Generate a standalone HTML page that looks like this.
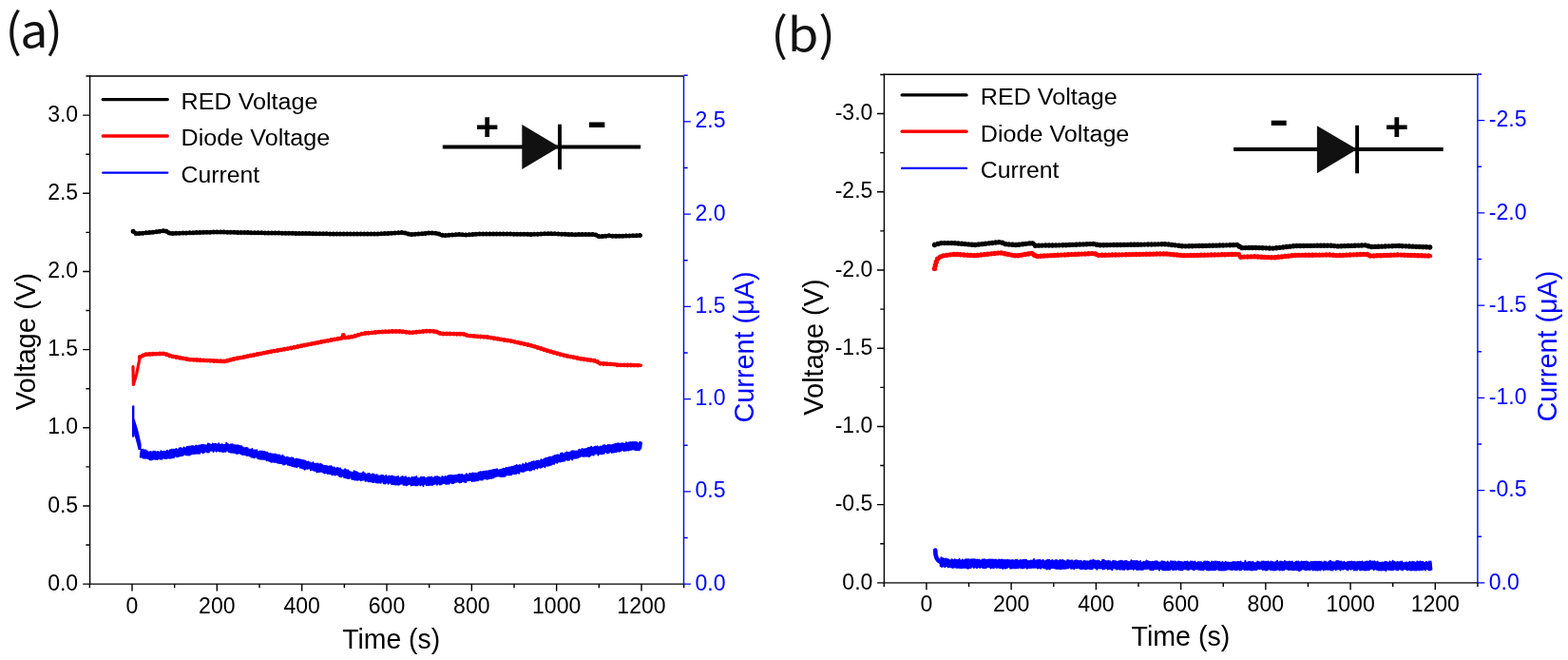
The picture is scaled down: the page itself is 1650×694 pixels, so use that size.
<!DOCTYPE html>
<html><head><meta charset="utf-8"><style>
html,body{margin:0;padding:0;background:#fff;overflow:hidden;}
svg{display:block;}
</style></head><body>
<svg width="1650" height="694" viewBox="0 0 1650 694" font-family='"Liberation Sans", Arial, sans-serif'>
<rect width="1650" height="694" fill="#fff"/>
<path d="M94.6,80.0 L94.6,614.1 L719.5,614.1" fill="none" stroke="#000" stroke-width="1.4" stroke-linecap="square"/>
<path d="M94.6,80.0 L719.5,80.0" fill="none" stroke="#000" stroke-width="1.4"/>
<path d="M719.5,80.0 L719.5,614.1" fill="none" stroke="#0000ff" stroke-width="1.4"/>
<path d="M94.33,614.1 l0,4.2 M139.00,614.1 l0,7.4 M183.67,614.1 l0,4.2 M228.33,614.1 l0,7.4 M273.00,614.1 l0,4.2 M317.67,614.1 l0,7.4 M362.34,614.1 l0,4.2 M407.00,614.1 l0,7.4 M451.67,614.1 l0,4.2 M496.34,614.1 l0,7.4 M541.00,614.1 l0,4.2 M585.67,614.1 l0,7.4 M630.34,614.1 l0,4.2 M675.00,614.1 l0,7.4 M719.67,614.1 l0,4.2" stroke="#000" stroke-width="1.4"/>
<path d="M94.6,614.10 l-7.4,0 M94.6,573.02 l-4.2,0 M94.6,531.94 l-7.4,0 M94.6,490.85 l-4.2,0 M94.6,449.77 l-7.4,0 M94.6,408.69 l-4.2,0 M94.6,367.61 l-7.4,0 M94.6,326.52 l-4.2,0 M94.6,285.44 l-7.4,0 M94.6,244.36 l-4.2,0 M94.6,203.27 l-7.4,0 M94.6,162.19 l-4.2,0 M94.6,121.11 l-7.4,0 M94.6,80.03 l-4.2,0" stroke="#000" stroke-width="1.4"/>
<path d="M719.5,614.10 l7.4,0 M719.5,565.48 l4.2,0 M719.5,516.85 l7.4,0 M719.5,468.23 l4.2,0 M719.5,419.60 l7.4,0 M719.5,370.98 l4.2,0 M719.5,322.35 l7.4,0 M719.5,273.73 l4.2,0 M719.5,225.10 l7.4,0 M719.5,176.48 l4.2,0 M719.5,127.85 l7.4,0 M719.5,79.23 l4.2,0" stroke="#0000ff" stroke-width="1.4"/>
<text transform="translate(139.00,644.50) scale(0.9300,1)" font-size="24.8" text-anchor="middle">0</text>
<text transform="translate(228.33,644.50) scale(0.9300,1)" font-size="24.8" text-anchor="middle">200</text>
<text transform="translate(317.67,644.50) scale(0.9300,1)" font-size="24.8" text-anchor="middle">400</text>
<text transform="translate(407.00,644.50) scale(0.9300,1)" font-size="24.8" text-anchor="middle">600</text>
<text transform="translate(496.34,644.50) scale(0.9300,1)" font-size="24.8" text-anchor="middle">800</text>
<text transform="translate(585.67,644.50) scale(0.9300,1)" font-size="24.8" text-anchor="middle">1000</text>
<text transform="translate(675.00,644.50) scale(0.9300,1)" font-size="24.8" text-anchor="middle">1200</text>
<text transform="translate(82.20,620.70) scale(0.9300,1)" font-size="24.8" text-anchor="end">0.0</text>
<text transform="translate(82.20,538.54) scale(0.9300,1)" font-size="24.8" text-anchor="end">0.5</text>
<text transform="translate(82.20,456.37) scale(0.9300,1)" font-size="24.8" text-anchor="end">1.0</text>
<text transform="translate(82.20,374.21) scale(0.9300,1)" font-size="24.8" text-anchor="end">1.5</text>
<text transform="translate(82.20,292.04) scale(0.9300,1)" font-size="24.8" text-anchor="end">2.0</text>
<text transform="translate(82.20,209.87) scale(0.9300,1)" font-size="24.8" text-anchor="end">2.5</text>
<text transform="translate(82.20,127.71) scale(0.9300,1)" font-size="24.8" text-anchor="end">3.0</text>
<text transform="translate(731.50,620.70) scale(0.9300,1)" font-size="24.8" fill="#0000ff">0.0</text>
<text transform="translate(731.50,523.45) scale(0.9300,1)" font-size="24.8" fill="#0000ff">0.5</text>
<text transform="translate(731.50,426.20) scale(0.9300,1)" font-size="24.8" fill="#0000ff">1.0</text>
<text transform="translate(731.50,328.95) scale(0.9300,1)" font-size="24.8" fill="#0000ff">1.5</text>
<text transform="translate(731.50,231.70) scale(0.9300,1)" font-size="24.8" fill="#0000ff">2.0</text>
<text transform="translate(731.50,134.45) scale(0.9300,1)" font-size="24.8" fill="#0000ff">2.5</text>
<path d="M930.4,78.2 L930.4,612.9 L1554.9,612.9" fill="none" stroke="#000" stroke-width="1.4" stroke-linecap="square"/>
<path d="M930.4,78.2 L1554.9,78.2" fill="none" stroke="#000" stroke-width="1.4"/>
<path d="M1554.9,78.2 L1554.9,612.9" fill="none" stroke="#0000ff" stroke-width="1.4"/>
<path d="M930.28,612.9 l0,4.2 M974.90,612.9 l0,7.4 M1019.52,612.9 l0,4.2 M1064.13,612.9 l0,7.4 M1108.75,612.9 l0,4.2 M1153.37,612.9 l0,7.4 M1197.98,612.9 l0,4.2 M1242.60,612.9 l0,7.4 M1287.22,612.9 l0,4.2 M1331.84,612.9 l0,7.4 M1376.45,612.9 l0,4.2 M1421.07,612.9 l0,7.4 M1465.69,612.9 l0,4.2 M1510.30,612.9 l0,7.4 M1554.92,612.9 l0,4.2" stroke="#000" stroke-width="1.4"/>
<path d="M930.4,612.90 l-7.4,0 M930.4,571.79 l-4.2,0 M930.4,530.67 l-7.4,0 M930.4,489.56 l-4.2,0 M930.4,448.45 l-7.4,0 M930.4,407.34 l-4.2,0 M930.4,366.23 l-7.4,0 M930.4,325.11 l-4.2,0 M930.4,284.00 l-7.4,0 M930.4,242.89 l-4.2,0 M930.4,201.77 l-7.4,0 M930.4,160.66 l-4.2,0 M930.4,119.55 l-7.4,0 M930.4,78.44 l-4.2,0" stroke="#000" stroke-width="1.4"/>
<path d="M1554.9,612.90 l7.4,0 M1554.9,564.27 l4.2,0 M1554.9,515.65 l7.4,0 M1554.9,467.02 l4.2,0 M1554.9,418.40 l7.4,0 M1554.9,369.77 l4.2,0 M1554.9,321.15 l7.4,0 M1554.9,272.52 l4.2,0 M1554.9,223.90 l7.4,0 M1554.9,175.27 l4.2,0 M1554.9,126.65 l7.4,0 M1554.9,78.02 l4.2,0" stroke="#0000ff" stroke-width="1.4"/>
<text transform="translate(974.90,642.80) scale(0.9300,1)" font-size="24.8" text-anchor="middle">0</text>
<text transform="translate(1064.13,642.80) scale(0.9300,1)" font-size="24.8" text-anchor="middle">200</text>
<text transform="translate(1153.37,642.80) scale(0.9300,1)" font-size="24.8" text-anchor="middle">400</text>
<text transform="translate(1242.60,642.80) scale(0.9300,1)" font-size="24.8" text-anchor="middle">600</text>
<text transform="translate(1331.84,642.80) scale(0.9300,1)" font-size="24.8" text-anchor="middle">800</text>
<text transform="translate(1421.07,642.80) scale(0.9300,1)" font-size="24.8" text-anchor="middle">1000</text>
<text transform="translate(1510.30,642.80) scale(0.9300,1)" font-size="24.8" text-anchor="middle">1200</text>
<text transform="translate(918.40,619.50) scale(0.9300,1)" font-size="24.8" text-anchor="end">0.0</text>
<text transform="translate(918.40,537.27) scale(0.9300,1)" font-size="24.8" text-anchor="end">-0.5</text>
<text transform="translate(918.40,455.05) scale(0.9300,1)" font-size="24.8" text-anchor="end">-1.0</text>
<text transform="translate(918.40,372.83) scale(0.9300,1)" font-size="24.8" text-anchor="end">-1.5</text>
<text transform="translate(918.40,290.60) scale(0.9300,1)" font-size="24.8" text-anchor="end">-2.0</text>
<text transform="translate(918.40,208.37) scale(0.9300,1)" font-size="24.8" text-anchor="end">-2.5</text>
<text transform="translate(918.40,126.15) scale(0.9300,1)" font-size="24.8" text-anchor="end">-3.0</text>
<text transform="translate(1566.80,619.50) scale(0.9300,1)" font-size="24.8" fill="#0000ff">0.0</text>
<text transform="translate(1566.80,522.25) scale(0.9300,1)" font-size="24.8" fill="#0000ff">-0.5</text>
<text transform="translate(1566.80,425.00) scale(0.9300,1)" font-size="24.8" fill="#0000ff">-1.0</text>
<text transform="translate(1566.80,327.75) scale(0.9300,1)" font-size="24.8" fill="#0000ff">-1.5</text>
<text transform="translate(1566.80,230.50) scale(0.9300,1)" font-size="24.8" fill="#0000ff">-2.0</text>
<text transform="translate(1566.80,133.25) scale(0.9300,1)" font-size="24.8" fill="#0000ff">-2.5</text>
<path d="M140.10,243.30 L141.10,244.01 L142.10,244.71 L143.10,245.42 L144.10,245.65 L145.10,245.56 L146.10,245.48 L147.10,245.39 L148.10,245.31 L149.10,245.22 L150.10,245.14 L151.10,245.06 L152.10,244.97 L153.10,244.89 L154.10,244.80 L155.10,244.72 L156.10,244.63 L157.10,244.55 L158.10,244.46 L159.10,244.38 L160.10,244.29 L161.10,244.16 L162.10,244.03 L163.10,243.90 L164.10,243.77 L165.10,243.64 L166.10,243.52 L167.10,243.39 L168.10,243.26 L169.10,243.13 L170.10,243.00 L171.10,242.87 L172.10,242.74 L173.10,242.62 L174.10,242.56 L175.10,243.15 L176.10,243.74 L177.10,244.32 L178.10,244.91 L179.10,245.50 L180.10,245.47 L181.10,245.43 L182.10,245.40 L183.10,245.37 L184.10,245.34 L185.10,245.30 L186.10,245.27 L187.10,245.24 L188.10,245.21 L189.10,245.17 L190.10,245.14 L191.10,245.11 L192.10,245.08 L193.10,245.04 L194.10,245.01 L195.10,244.98 L196.10,244.95 L197.10,244.91 L198.10,244.88 L199.10,244.85 L200.10,244.82 L201.10,244.78 L202.10,244.75 L203.10,244.72 L204.10,244.69 L205.10,244.65 L206.10,244.62 L207.10,244.59 L208.10,244.56 L209.10,244.52 L210.10,244.49 L211.10,244.46 L212.10,244.43 L213.10,244.39 L214.10,244.36 L215.10,244.33 L216.10,244.30 L217.10,244.26 L218.10,244.23 L219.10,244.20 L220.10,244.17 L221.10,244.13 L222.10,244.10 L223.10,244.07 L224.10,244.04 L225.10,244.00 L226.10,243.97 L227.10,243.94 L228.10,243.91 L229.10,243.92 L230.10,243.94 L231.10,243.97 L232.10,243.99 L233.10,244.01 L234.10,244.04 L235.10,244.06 L236.10,244.08 L237.10,244.11 L238.10,244.13 L239.10,244.15 L240.10,244.18 L241.10,244.20 L242.10,244.22 L243.10,244.25 L244.10,244.27 L245.10,244.30 L246.10,244.32 L247.10,244.34 L248.10,244.37 L249.10,244.39 L250.10,244.41 L251.10,244.44 L252.10,244.46 L253.10,244.48 L254.10,244.50 L255.10,244.52 L256.10,244.54 L257.10,244.55 L258.10,244.57 L259.10,244.58 L260.10,244.60 L261.10,244.61 L262.10,244.63 L263.10,244.65 L264.10,244.66 L265.10,244.68 L266.10,244.69 L267.10,244.71 L268.10,244.72 L269.10,244.74 L270.10,244.76 L271.10,244.77 L272.10,244.79 L273.10,244.80 L274.10,244.82 L275.10,244.83 L276.10,244.85 L277.10,244.87 L278.10,244.88 L279.10,244.90 L280.10,244.91 L281.10,244.93 L282.10,244.94 L283.10,244.96 L284.10,244.98 L285.10,244.99 L286.10,245.01 L287.10,245.02 L288.10,245.04 L289.10,245.05 L290.10,245.07 L291.10,245.09 L292.10,245.10 L293.10,245.12 L294.10,245.13 L295.10,245.15 L296.10,245.16 L297.10,245.18 L298.10,245.20 L299.10,245.21 L300.10,245.23 L301.10,245.24 L302.10,245.26 L303.10,245.27 L304.10,245.29 L305.10,245.31 L306.10,245.32 L307.10,245.33 L308.10,245.35 L309.10,245.36 L310.10,245.37 L311.10,245.39 L312.10,245.40 L313.10,245.42 L314.10,245.43 L315.10,245.44 L316.10,245.46 L317.10,245.47 L318.10,245.48 L319.10,245.50 L320.10,245.51 L321.10,245.53 L322.10,245.54 L323.10,245.55 L324.10,245.57 L325.10,245.58 L326.10,245.59 L327.10,245.61 L328.10,245.62 L329.10,245.64 L330.10,245.65 L331.10,245.66 L332.10,245.68 L333.10,245.69 L334.10,245.70 L335.10,245.72 L336.10,245.73 L337.10,245.75 L338.10,245.76 L339.10,245.77 L340.10,245.79 L341.10,245.80 L342.10,245.81 L343.10,245.83 L344.10,245.84 L345.10,245.86 L346.10,245.87 L347.10,245.88 L348.10,245.90 L349.10,245.91 L350.10,245.92 L351.10,245.94 L352.10,245.95 L353.10,245.97 L354.10,245.98 L355.10,245.99 L356.10,246.00 L357.10,246.00 L358.10,246.00 L359.10,246.00 L360.10,246.00 L361.10,246.00 L362.10,246.00 L363.10,246.00 L364.10,246.00 L365.10,246.00 L366.10,246.00 L367.10,246.00 L368.10,246.00 L369.10,246.00 L370.10,246.00 L371.10,246.00 L372.10,246.00 L373.10,246.00 L374.10,246.00 L375.10,246.00 L376.10,246.00 L377.10,246.00 L378.10,246.00 L379.10,246.00 L380.10,246.00 L381.10,246.00 L382.10,246.00 L383.10,246.00 L384.10,246.00 L385.10,246.00 L386.10,246.00 L387.10,246.00 L388.10,246.00 L389.10,246.00 L390.10,246.00 L391.10,246.00 L392.10,246.00 L393.10,246.00 L394.10,246.00 L395.10,246.00 L396.10,246.00 L397.10,246.00 L398.10,245.99 L399.10,245.94 L400.10,245.88 L401.10,245.82 L402.10,245.76 L403.10,245.70 L404.10,245.64 L405.10,245.59 L406.10,245.53 L407.10,245.47 L408.10,245.41 L409.10,245.35 L410.10,245.29 L411.10,245.24 L412.10,245.18 L413.10,245.13 L414.10,245.07 L415.10,245.02 L416.10,244.96 L417.10,244.91 L418.10,244.85 L419.10,244.80 L420.10,244.74 L421.10,244.69 L422.10,244.63 L423.10,244.58 L424.10,244.52 L425.10,244.68 L426.10,244.98 L427.10,245.28 L428.10,245.58 L429.10,245.89 L430.10,246.19 L431.10,246.49 L432.10,246.68 L433.10,246.59 L434.10,246.51 L435.10,246.43 L436.10,246.34 L437.10,246.26 L438.10,246.18 L439.10,246.10 L440.10,246.01 L441.10,245.93 L442.10,245.85 L443.10,245.77 L444.10,245.68 L445.10,245.60 L446.10,245.52 L447.10,245.44 L448.10,245.35 L449.10,245.27 L450.10,245.19 L451.10,245.11 L452.10,245.02 L453.10,244.94 L454.10,244.93 L455.10,245.00 L456.10,245.07 L457.10,245.14 L458.10,245.21 L459.10,245.27 L460.10,245.51 L461.10,245.86 L462.10,246.20 L463.10,246.55 L464.10,246.90 L465.10,247.24 L466.10,247.59 L467.10,247.77 L468.10,247.68 L469.10,247.59 L470.10,247.50 L471.10,247.42 L472.10,247.33 L473.10,247.24 L474.10,247.15 L475.10,247.06 L476.10,246.98 L477.10,246.89 L478.10,246.80 L479.10,246.72 L480.10,246.63 L481.10,246.54 L482.10,246.45 L483.10,246.44 L484.10,246.53 L485.10,246.63 L486.10,246.73 L487.10,246.82 L488.10,246.92 L489.10,247.01 L490.10,247.09 L491.10,247.02 L492.10,246.94 L493.10,246.86 L494.10,246.79 L495.10,246.71 L496.10,246.64 L497.10,246.56 L498.10,246.49 L499.10,246.41 L500.10,246.33 L501.10,246.26 L502.10,246.18 L503.10,246.11 L504.10,246.03 L505.10,246.00 L506.10,246.00 L507.10,246.00 L508.10,246.00 L509.10,246.00 L510.10,246.00 L511.10,246.00 L512.10,246.00 L513.10,246.00 L514.10,246.00 L515.10,246.00 L516.10,246.00 L517.10,246.00 L518.10,246.00 L519.10,246.00 L520.10,246.00 L521.10,246.00 L522.10,246.00 L523.10,246.00 L524.10,246.00 L525.10,246.00 L526.10,246.00 L527.10,246.00 L528.10,246.00 L529.10,246.00 L530.10,246.00 L531.10,246.01 L532.10,246.03 L533.10,246.04 L534.10,246.05 L535.10,246.07 L536.10,246.08 L537.10,246.09 L538.10,246.11 L539.10,246.12 L540.10,246.13 L541.10,246.15 L542.10,246.16 L543.10,246.17 L544.10,246.19 L545.10,246.20 L546.10,246.21 L547.10,246.23 L548.10,246.24 L549.10,246.25 L550.10,246.27 L551.10,246.28 L552.10,246.29 L553.10,246.31 L554.10,246.32 L555.10,246.33 L556.10,246.35 L557.10,246.36 L558.10,246.37 L559.10,246.39 L560.10,246.40 L561.10,246.35 L562.10,246.31 L563.10,246.26 L564.10,246.22 L565.10,246.18 L566.10,246.13 L567.10,246.09 L568.10,246.04 L569.10,246.00 L570.10,245.96 L571.10,245.91 L572.10,245.87 L573.10,245.82 L574.10,245.78 L575.10,245.74 L576.10,245.69 L577.10,245.65 L578.10,245.60 L579.10,245.64 L580.10,245.68 L581.10,245.73 L582.10,245.77 L583.10,245.81 L584.10,245.86 L585.10,245.90 L586.10,245.94 L587.10,245.99 L588.10,246.03 L589.10,246.07 L590.10,246.12 L591.10,246.16 L592.10,246.20 L593.10,246.25 L594.10,246.29 L595.10,246.33 L596.10,246.38 L597.10,246.42 L598.10,246.46 L599.10,246.51 L600.10,246.55 L601.10,246.59 L602.10,246.64 L603.10,246.68 L604.10,246.69 L605.10,246.68 L606.10,246.67 L607.10,246.65 L608.10,246.64 L609.10,246.62 L610.10,246.61 L611.10,246.60 L612.10,246.58 L613.10,246.57 L614.10,246.56 L615.10,246.54 L616.10,246.53 L617.10,246.52 L618.10,246.50 L619.10,246.49 L620.10,246.47 L621.10,246.46 L622.10,246.45 L623.10,246.43 L624.10,246.42 L625.10,246.41 L626.10,246.66 L627.10,247.09 L628.10,247.52 L629.10,247.95 L630.10,248.38 L631.10,248.81 L632.10,248.80 L633.10,248.67 L634.10,248.55 L635.10,248.42 L636.10,248.29 L637.10,248.17 L638.10,248.04 L639.10,247.91 L640.10,247.81 L641.10,247.89 L642.10,247.97 L643.10,248.05 L644.10,248.14 L645.10,248.22 L646.10,248.30 L647.10,248.38 L648.10,248.37 L649.10,248.34 L650.10,248.31 L651.10,248.27 L652.10,248.24 L653.10,248.21 L654.10,248.18 L655.10,248.14 L656.10,248.11 L657.10,248.08 L658.10,248.04 L659.10,248.01 L660.10,247.98 L661.10,247.94 L662.10,247.91 L663.10,247.88 L664.10,247.84 L665.10,247.81 L666.10,247.78 L667.10,247.74 L668.10,247.71 L669.10,247.68 L670.10,247.65 L671.10,247.61 L672.10,247.58 L673.10,247.55 L674.10,247.51" fill="none" stroke="#000" stroke-width="3.6" stroke-linejoin="round" stroke-linecap="round" />
<path d="M140.10,243.30 L141.10,244.01 L142.10,244.71 L143.10,245.42 L144.10,245.65 L145.10,245.56 L146.10,245.48 L147.10,245.39 L148.10,245.31 L149.10,245.22 L150.10,245.14 L151.10,245.06 L152.10,244.97 L153.10,244.89 L154.10,244.80 L155.10,244.72 L156.10,244.63 L157.10,244.55 L158.10,244.46 L159.10,244.38 L160.10,244.29 L161.10,244.16 L162.10,244.03 L163.10,243.90 L164.10,243.77 L165.10,243.64 L166.10,243.52 L167.10,243.39 L168.10,243.26 L169.10,243.13 L170.10,243.00 L171.10,242.87 L172.10,242.74 L173.10,242.62 L174.10,242.56 L175.10,243.15 L176.10,243.74 L177.10,244.32 L178.10,244.91 L179.10,245.50 L180.10,245.47 L181.10,245.43 L182.10,245.40 L183.10,245.37 L184.10,245.34 L185.10,245.30 L186.10,245.27 L187.10,245.24 L188.10,245.21 L189.10,245.17 L190.10,245.14 L191.10,245.11 L192.10,245.08 L193.10,245.04 L194.10,245.01 L195.10,244.98 L196.10,244.95 L197.10,244.91 L198.10,244.88 L199.10,244.85 L200.10,244.82 L201.10,244.78 L202.10,244.75 L203.10,244.72 L204.10,244.69 L205.10,244.65 L206.10,244.62 L207.10,244.59 L208.10,244.56 L209.10,244.52 L210.10,244.49 L211.10,244.46 L212.10,244.43 L213.10,244.39 L214.10,244.36 L215.10,244.33 L216.10,244.30 L217.10,244.26 L218.10,244.23 L219.10,244.20 L220.10,244.17 L221.10,244.13 L222.10,244.10 L223.10,244.07 L224.10,244.04 L225.10,244.00 L226.10,243.97 L227.10,243.94 L228.10,243.91 L229.10,243.92 L230.10,243.94 L231.10,243.97 L232.10,243.99 L233.10,244.01 L234.10,244.04 L235.10,244.06 L236.10,244.08 L237.10,244.11 L238.10,244.13 L239.10,244.15 L240.10,244.18 L241.10,244.20 L242.10,244.22 L243.10,244.25 L244.10,244.27 L245.10,244.30 L246.10,244.32 L247.10,244.34 L248.10,244.37 L249.10,244.39 L250.10,244.41 L251.10,244.44 L252.10,244.46 L253.10,244.48 L254.10,244.50 L255.10,244.52 L256.10,244.54 L257.10,244.55 L258.10,244.57 L259.10,244.58 L260.10,244.60 L261.10,244.61 L262.10,244.63 L263.10,244.65 L264.10,244.66 L265.10,244.68 L266.10,244.69 L267.10,244.71 L268.10,244.72 L269.10,244.74 L270.10,244.76 L271.10,244.77 L272.10,244.79 L273.10,244.80 L274.10,244.82 L275.10,244.83 L276.10,244.85 L277.10,244.87 L278.10,244.88 L279.10,244.90 L280.10,244.91 L281.10,244.93 L282.10,244.94 L283.10,244.96 L284.10,244.98 L285.10,244.99 L286.10,245.01 L287.10,245.02 L288.10,245.04 L289.10,245.05 L290.10,245.07 L291.10,245.09 L292.10,245.10 L293.10,245.12 L294.10,245.13 L295.10,245.15 L296.10,245.16 L297.10,245.18 L298.10,245.20 L299.10,245.21 L300.10,245.23 L301.10,245.24 L302.10,245.26 L303.10,245.27 L304.10,245.29 L305.10,245.31 L306.10,245.32 L307.10,245.33 L308.10,245.35 L309.10,245.36 L310.10,245.37 L311.10,245.39 L312.10,245.40 L313.10,245.42 L314.10,245.43 L315.10,245.44 L316.10,245.46 L317.10,245.47 L318.10,245.48 L319.10,245.50 L320.10,245.51 L321.10,245.53 L322.10,245.54 L323.10,245.55 L324.10,245.57 L325.10,245.58 L326.10,245.59 L327.10,245.61 L328.10,245.62 L329.10,245.64 L330.10,245.65 L331.10,245.66 L332.10,245.68 L333.10,245.69 L334.10,245.70 L335.10,245.72 L336.10,245.73 L337.10,245.75 L338.10,245.76 L339.10,245.77 L340.10,245.79 L341.10,245.80 L342.10,245.81 L343.10,245.83 L344.10,245.84 L345.10,245.86 L346.10,245.87 L347.10,245.88 L348.10,245.90 L349.10,245.91 L350.10,245.92 L351.10,245.94 L352.10,245.95 L353.10,245.97 L354.10,245.98 L355.10,245.99 L356.10,246.00 L357.10,246.00 L358.10,246.00 L359.10,246.00 L360.10,246.00 L361.10,246.00 L362.10,246.00 L363.10,246.00 L364.10,246.00 L365.10,246.00 L366.10,246.00 L367.10,246.00 L368.10,246.00 L369.10,246.00 L370.10,246.00 L371.10,246.00 L372.10,246.00 L373.10,246.00 L374.10,246.00 L375.10,246.00 L376.10,246.00 L377.10,246.00 L378.10,246.00 L379.10,246.00 L380.10,246.00 L381.10,246.00 L382.10,246.00 L383.10,246.00 L384.10,246.00 L385.10,246.00 L386.10,246.00 L387.10,246.00 L388.10,246.00 L389.10,246.00 L390.10,246.00 L391.10,246.00 L392.10,246.00 L393.10,246.00 L394.10,246.00 L395.10,246.00 L396.10,246.00 L397.10,246.00 L398.10,245.99 L399.10,245.94 L400.10,245.88 L401.10,245.82 L402.10,245.76 L403.10,245.70 L404.10,245.64 L405.10,245.59 L406.10,245.53 L407.10,245.47 L408.10,245.41 L409.10,245.35 L410.10,245.29 L411.10,245.24 L412.10,245.18 L413.10,245.13 L414.10,245.07 L415.10,245.02 L416.10,244.96 L417.10,244.91 L418.10,244.85 L419.10,244.80 L420.10,244.74 L421.10,244.69 L422.10,244.63 L423.10,244.58 L424.10,244.52 L425.10,244.68 L426.10,244.98 L427.10,245.28 L428.10,245.58 L429.10,245.89 L430.10,246.19 L431.10,246.49 L432.10,246.68 L433.10,246.59 L434.10,246.51 L435.10,246.43 L436.10,246.34 L437.10,246.26 L438.10,246.18 L439.10,246.10 L440.10,246.01 L441.10,245.93 L442.10,245.85 L443.10,245.77 L444.10,245.68 L445.10,245.60 L446.10,245.52 L447.10,245.44 L448.10,245.35 L449.10,245.27 L450.10,245.19 L451.10,245.11 L452.10,245.02 L453.10,244.94 L454.10,244.93 L455.10,245.00 L456.10,245.07 L457.10,245.14 L458.10,245.21 L459.10,245.27 L460.10,245.51 L461.10,245.86 L462.10,246.20 L463.10,246.55 L464.10,246.90 L465.10,247.24 L466.10,247.59 L467.10,247.77 L468.10,247.68 L469.10,247.59 L470.10,247.50 L471.10,247.42 L472.10,247.33 L473.10,247.24 L474.10,247.15 L475.10,247.06 L476.10,246.98 L477.10,246.89 L478.10,246.80 L479.10,246.72 L480.10,246.63 L481.10,246.54 L482.10,246.45 L483.10,246.44 L484.10,246.53 L485.10,246.63 L486.10,246.73 L487.10,246.82 L488.10,246.92 L489.10,247.01 L490.10,247.09 L491.10,247.02 L492.10,246.94 L493.10,246.86 L494.10,246.79 L495.10,246.71 L496.10,246.64 L497.10,246.56 L498.10,246.49 L499.10,246.41 L500.10,246.33 L501.10,246.26 L502.10,246.18 L503.10,246.11 L504.10,246.03 L505.10,246.00 L506.10,246.00 L507.10,246.00 L508.10,246.00 L509.10,246.00 L510.10,246.00 L511.10,246.00 L512.10,246.00 L513.10,246.00 L514.10,246.00 L515.10,246.00 L516.10,246.00 L517.10,246.00 L518.10,246.00 L519.10,246.00 L520.10,246.00 L521.10,246.00 L522.10,246.00 L523.10,246.00 L524.10,246.00 L525.10,246.00 L526.10,246.00 L527.10,246.00 L528.10,246.00 L529.10,246.00 L530.10,246.00 L531.10,246.01 L532.10,246.03 L533.10,246.04 L534.10,246.05 L535.10,246.07 L536.10,246.08 L537.10,246.09 L538.10,246.11 L539.10,246.12 L540.10,246.13 L541.10,246.15 L542.10,246.16 L543.10,246.17 L544.10,246.19 L545.10,246.20 L546.10,246.21 L547.10,246.23 L548.10,246.24 L549.10,246.25 L550.10,246.27 L551.10,246.28 L552.10,246.29 L553.10,246.31 L554.10,246.32 L555.10,246.33 L556.10,246.35 L557.10,246.36 L558.10,246.37 L559.10,246.39 L560.10,246.40 L561.10,246.35 L562.10,246.31 L563.10,246.26 L564.10,246.22 L565.10,246.18 L566.10,246.13 L567.10,246.09 L568.10,246.04 L569.10,246.00 L570.10,245.96 L571.10,245.91 L572.10,245.87 L573.10,245.82 L574.10,245.78 L575.10,245.74 L576.10,245.69 L577.10,245.65 L578.10,245.60 L579.10,245.64 L580.10,245.68 L581.10,245.73 L582.10,245.77 L583.10,245.81 L584.10,245.86 L585.10,245.90 L586.10,245.94 L587.10,245.99 L588.10,246.03 L589.10,246.07 L590.10,246.12 L591.10,246.16 L592.10,246.20 L593.10,246.25 L594.10,246.29 L595.10,246.33 L596.10,246.38 L597.10,246.42 L598.10,246.46 L599.10,246.51 L600.10,246.55 L601.10,246.59 L602.10,246.64 L603.10,246.68 L604.10,246.69 L605.10,246.68 L606.10,246.67 L607.10,246.65 L608.10,246.64 L609.10,246.62 L610.10,246.61 L611.10,246.60 L612.10,246.58 L613.10,246.57 L614.10,246.56 L615.10,246.54 L616.10,246.53 L617.10,246.52 L618.10,246.50 L619.10,246.49 L620.10,246.47 L621.10,246.46 L622.10,246.45 L623.10,246.43 L624.10,246.42 L625.10,246.41 L626.10,246.66 L627.10,247.09 L628.10,247.52 L629.10,247.95 L630.10,248.38 L631.10,248.81 L632.10,248.80 L633.10,248.67 L634.10,248.55 L635.10,248.42 L636.10,248.29 L637.10,248.17 L638.10,248.04 L639.10,247.91 L640.10,247.81 L641.10,247.89 L642.10,247.97 L643.10,248.05 L644.10,248.14 L645.10,248.22 L646.10,248.30 L647.10,248.38 L648.10,248.37 L649.10,248.34 L650.10,248.31 L651.10,248.27 L652.10,248.24 L653.10,248.21 L654.10,248.18 L655.10,248.14 L656.10,248.11 L657.10,248.08 L658.10,248.04 L659.10,248.01 L660.10,247.98 L661.10,247.94 L662.10,247.91 L663.10,247.88 L664.10,247.84 L665.10,247.81 L666.10,247.78 L667.10,247.74 L668.10,247.71 L669.10,247.68 L670.10,247.65 L671.10,247.61 L672.10,247.58 L673.10,247.55 L674.10,247.51" fill="none" stroke="#000" stroke-width="5.0" stroke-linejoin="round" stroke-linecap="round" stroke-dasharray="0 3.6"/>
<path d="M147.30,375.50 L148.30,374.98 L149.30,374.46 L150.30,373.94 L151.30,373.43 L152.30,372.91 L153.30,372.67 L154.30,372.63 L155.30,372.58 L156.30,372.54 L157.30,372.49 L158.30,372.45 L159.30,372.40 L160.30,372.36 L161.30,372.31 L162.30,372.27 L163.30,372.22 L164.30,372.18 L165.30,372.13 L166.30,372.09 L167.30,372.04 L168.30,372.00 L169.30,371.95 L170.30,371.91 L171.30,371.86 L172.30,371.82 L173.30,372.02 L174.30,372.39 L175.30,372.76 L176.30,373.13 L177.30,373.50 L178.30,373.87 L179.30,374.24 L180.30,374.56 L181.30,374.74 L182.30,374.93 L183.30,375.11 L184.30,375.30 L185.30,375.48 L186.30,375.67 L187.30,375.85 L188.30,376.04 L189.30,376.22 L190.30,376.41 L191.30,376.59 L192.30,376.78 L193.30,376.96 L194.30,377.15 L195.30,377.33 L196.30,377.52 L197.30,377.70 L198.30,377.89 L199.30,378.07 L200.30,378.21 L201.30,378.26 L202.30,378.31 L203.30,378.36 L204.30,378.41 L205.30,378.46 L206.30,378.51 L207.30,378.56 L208.30,378.61 L209.30,378.66 L210.30,378.71 L211.30,378.76 L212.30,378.81 L213.30,378.86 L214.30,378.91 L215.30,378.96 L216.30,379.01 L217.30,379.06 L218.30,379.10 L219.30,379.15 L220.30,379.20 L221.30,379.25 L222.30,379.30 L223.30,379.35 L224.30,379.40 L225.30,379.45 L226.30,379.50 L227.30,379.55 L228.30,379.60 L229.30,379.65 L230.30,379.70 L231.30,379.75 L232.30,379.80 L233.30,379.85 L234.30,379.90 L235.30,379.95 L236.30,380.00 L237.30,379.78 L238.30,379.53 L239.30,379.28 L240.30,379.03 L241.30,378.79 L242.30,378.54 L243.30,378.29 L244.30,378.04 L245.30,377.80 L246.30,377.55 L247.30,377.30 L248.30,377.10 L249.30,376.90 L250.30,376.70 L251.30,376.50 L252.30,376.29 L253.30,376.09 L254.30,375.89 L255.30,375.69 L256.30,375.49 L257.30,375.29 L258.30,375.09 L259.30,374.89 L260.30,374.69 L261.30,374.48 L262.30,374.28 L263.30,374.08 L264.30,373.88 L265.30,373.68 L266.30,373.48 L267.30,373.28 L268.30,373.08 L269.30,372.88 L270.30,372.67 L271.30,372.47 L272.30,372.27 L273.30,372.07 L274.30,371.87 L275.30,371.67 L276.30,371.47 L277.30,371.27 L278.30,371.07 L279.30,370.86 L280.30,370.66 L281.30,370.46 L282.30,370.26 L283.30,370.06 L284.30,369.88 L285.30,369.70 L286.30,369.52 L287.30,369.34 L288.30,369.16 L289.30,368.98 L290.30,368.81 L291.30,368.63 L292.30,368.45 L293.30,368.27 L294.30,368.09 L295.30,367.92 L296.30,367.74 L297.30,367.56 L298.30,367.38 L299.30,367.20 L300.30,367.03 L301.30,366.85 L302.30,366.67 L303.30,366.49 L304.30,366.31 L305.30,366.14 L306.30,365.94 L307.30,365.74 L308.30,365.53 L309.30,365.33 L310.30,365.13 L311.30,364.93 L312.30,364.73 L313.30,364.53 L314.30,364.32 L315.30,364.12 L316.30,363.92 L317.30,363.72 L318.30,363.52 L319.30,363.31 L320.30,363.11 L321.30,362.91 L322.30,362.71 L323.30,362.51 L324.30,362.31 L325.30,362.10 L326.30,361.90 L327.30,361.70 L328.30,361.50 L329.30,361.30 L330.30,361.09 L331.30,360.89 L332.30,360.69 L333.30,360.49 L334.30,360.29 L335.30,360.09 L336.30,359.88 L337.30,359.68 L338.30,359.48 L339.30,359.29 L340.30,359.11 L341.30,358.92 L342.30,358.73 L343.30,358.54 L344.30,358.35 L345.30,358.16 L346.30,357.98 L347.30,357.79 L348.30,357.60 L349.30,357.41 L350.30,357.22 L351.30,357.04 L352.30,356.85 L353.30,356.66 L354.30,356.47 L355.30,356.28 L356.30,356.10 L357.30,355.91 L358.30,355.72 L359.30,355.53 L360.30,354.60 L361.30,352.41 L362.30,354.56 L363.30,355.11 L364.30,354.97 L365.30,354.84 L366.30,354.71 L367.30,354.58 L368.30,354.44 L369.30,354.31 L370.30,354.18 L371.30,353.98 L372.30,353.68 L373.30,353.37 L374.30,353.07 L375.30,352.77 L376.30,352.47 L377.30,352.16 L378.30,351.86 L379.30,351.56 L380.30,351.25 L381.30,350.95 L382.30,350.75 L383.30,350.65 L384.30,350.56 L385.30,350.46 L386.30,350.36 L387.30,350.26 L388.30,350.17 L389.30,350.07 L390.30,349.97 L391.30,349.87 L392.30,349.78 L393.30,349.68 L394.30,349.58 L395.30,349.48 L396.30,349.39 L397.30,349.29 L398.30,349.19 L399.30,349.14 L400.30,349.09 L401.30,349.04 L402.30,348.99 L403.30,348.94 L404.30,348.89 L405.30,348.84 L406.30,348.79 L407.30,348.74 L408.30,348.69 L409.30,348.64 L410.30,348.59 L411.30,348.57 L412.30,348.55 L413.30,348.53 L414.30,348.51 L415.30,348.49 L416.30,348.47 L417.30,348.45 L418.30,348.43 L419.30,348.41 L420.30,348.43 L421.30,348.54 L422.30,348.65 L423.30,348.76 L424.30,348.87 L425.30,348.98 L426.30,349.09 L427.30,349.20 L428.30,349.31 L429.30,349.43 L430.30,349.54 L431.30,349.65 L432.30,349.76 L433.30,349.74 L434.30,349.64 L435.30,349.54 L436.30,349.44 L437.30,349.34 L438.30,349.24 L439.30,349.14 L440.30,349.04 L441.30,348.94 L442.30,348.84 L443.30,348.74 L444.30,348.64 L445.30,348.54 L446.30,348.44 L447.30,348.34 L448.30,348.24 L449.30,348.14 L450.30,348.13 L451.30,348.18 L452.30,348.22 L453.30,348.27 L454.30,348.32 L455.30,348.36 L456.30,348.41 L457.30,348.46 L458.30,348.54 L459.30,348.95 L460.30,349.35 L461.30,349.76 L462.30,350.17 L463.30,350.57 L464.30,350.90 L465.30,350.92 L466.30,350.94 L467.30,350.95 L468.30,350.97 L469.30,350.99 L470.30,351.00 L471.30,351.02 L472.30,351.04 L473.30,351.05 L474.30,351.07 L475.30,351.09 L476.30,351.11 L477.30,351.12 L478.30,351.14 L479.30,351.16 L480.30,351.17 L481.30,351.19 L482.30,351.21 L483.30,351.22 L484.30,351.24 L485.30,351.26 L486.30,351.27 L487.30,351.29 L488.30,351.45 L489.30,351.83 L490.30,352.21 L491.30,352.60 L492.30,352.92 L493.30,353.00 L494.30,353.08 L495.30,353.16 L496.30,353.24 L497.30,353.32 L498.30,353.40 L499.30,353.48 L500.30,353.56 L501.30,353.64 L502.30,353.72 L503.30,353.80 L504.30,353.88 L505.30,353.96 L506.30,354.04 L507.30,354.12 L508.30,354.20 L509.30,354.28 L510.30,354.36 L511.30,354.44 L512.30,354.52 L513.30,354.60 L514.30,354.76 L515.30,354.93 L516.30,355.09 L517.30,355.26 L518.30,355.42 L519.30,355.59 L520.30,355.75 L521.30,355.92 L522.30,356.08 L523.30,356.25 L524.30,356.41 L525.30,356.58 L526.30,356.74 L527.30,356.91 L528.30,357.07 L529.30,357.24 L530.30,357.40 L531.30,357.56 L532.30,357.73 L533.30,357.89 L534.30,358.06 L535.30,358.22 L536.30,358.39 L537.30,358.55 L538.30,358.72 L539.30,358.91 L540.30,359.14 L541.30,359.37 L542.30,359.59 L543.30,359.82 L544.30,360.05 L545.30,360.27 L546.30,360.50 L547.30,360.72 L548.30,360.95 L549.30,361.18 L550.30,361.40 L551.30,361.63 L552.30,361.86 L553.30,362.08 L554.30,362.31 L555.30,362.54 L556.30,362.76 L557.30,362.99 L558.30,363.22 L559.30,363.44 L560.30,363.70 L561.30,364.02 L562.30,364.34 L563.30,364.66 L564.30,364.99 L565.30,365.31 L566.30,365.63 L567.30,365.95 L568.30,366.28 L569.30,366.60 L570.30,366.92 L571.30,367.25 L572.30,367.57 L573.30,367.89 L574.30,368.21 L575.30,368.54 L576.30,368.86 L577.30,369.18 L578.30,369.50 L579.30,369.79 L580.30,370.06 L581.30,370.33 L582.30,370.61 L583.30,370.88 L584.30,371.15 L585.30,371.42 L586.30,371.70 L587.30,371.97 L588.30,372.24 L589.30,372.51 L590.30,372.78 L591.30,373.06 L592.30,373.33 L593.30,373.60 L594.30,373.87 L595.30,374.08 L596.30,374.28 L597.30,374.49 L598.30,374.69 L599.30,374.89 L600.30,375.09 L601.30,375.30 L602.30,375.50 L603.30,375.70 L604.30,375.91 L605.30,376.11 L606.30,376.31 L607.30,376.51 L608.30,376.72 L609.30,376.92 L610.30,377.11 L611.30,377.26 L612.30,377.41 L613.30,377.55 L614.30,377.70 L615.30,377.85 L616.30,377.99 L617.30,378.14 L618.30,378.29 L619.30,378.43 L620.30,378.58 L621.30,378.73 L622.30,378.87 L623.30,379.02 L624.30,379.17 L625.30,379.31 L626.30,379.53 L627.30,379.87 L628.30,380.20 L629.30,380.94 L630.30,381.68 L631.30,382.22 L632.30,382.27 L633.30,382.33 L634.30,382.38 L635.30,382.44 L636.30,382.49 L637.30,382.55 L638.30,382.60 L639.30,382.65 L640.30,382.71 L641.30,382.76 L642.30,382.82 L643.30,382.87 L644.30,382.93 L645.30,382.98 L646.30,383.14 L647.30,383.34 L648.30,383.54 L649.30,383.74 L650.30,383.81 L651.30,383.83 L652.30,383.84 L653.30,383.86 L654.30,383.88 L655.30,383.89 L656.30,383.91 L657.30,383.92 L658.30,383.94 L659.30,383.96 L660.30,383.97 L661.30,383.99 L662.30,384.00 L663.30,384.02 L664.30,384.04 L665.30,384.05 L666.30,384.07 L667.30,384.08 L668.30,384.10 L669.30,384.12 L670.30,384.13 L671.30,384.15 L672.30,384.16 L673.30,384.18 L674.30,384.20" fill="none" stroke="#ff0000" stroke-width="3.5" stroke-linejoin="round" stroke-linecap="round" />
<path d="M147.30,375.50 L148.30,374.98 L149.30,374.46 L150.30,373.94 L151.30,373.43 L152.30,372.91 L153.30,372.67 L154.30,372.63 L155.30,372.58 L156.30,372.54 L157.30,372.49 L158.30,372.45 L159.30,372.40 L160.30,372.36 L161.30,372.31 L162.30,372.27 L163.30,372.22 L164.30,372.18 L165.30,372.13 L166.30,372.09 L167.30,372.04 L168.30,372.00 L169.30,371.95 L170.30,371.91 L171.30,371.86 L172.30,371.82 L173.30,372.02 L174.30,372.39 L175.30,372.76 L176.30,373.13 L177.30,373.50 L178.30,373.87 L179.30,374.24 L180.30,374.56 L181.30,374.74 L182.30,374.93 L183.30,375.11 L184.30,375.30 L185.30,375.48 L186.30,375.67 L187.30,375.85 L188.30,376.04 L189.30,376.22 L190.30,376.41 L191.30,376.59 L192.30,376.78 L193.30,376.96 L194.30,377.15 L195.30,377.33 L196.30,377.52 L197.30,377.70 L198.30,377.89 L199.30,378.07 L200.30,378.21 L201.30,378.26 L202.30,378.31 L203.30,378.36 L204.30,378.41 L205.30,378.46 L206.30,378.51 L207.30,378.56 L208.30,378.61 L209.30,378.66 L210.30,378.71 L211.30,378.76 L212.30,378.81 L213.30,378.86 L214.30,378.91 L215.30,378.96 L216.30,379.01 L217.30,379.06 L218.30,379.10 L219.30,379.15 L220.30,379.20 L221.30,379.25 L222.30,379.30 L223.30,379.35 L224.30,379.40 L225.30,379.45 L226.30,379.50 L227.30,379.55 L228.30,379.60 L229.30,379.65 L230.30,379.70 L231.30,379.75 L232.30,379.80 L233.30,379.85 L234.30,379.90 L235.30,379.95 L236.30,380.00 L237.30,379.78 L238.30,379.53 L239.30,379.28 L240.30,379.03 L241.30,378.79 L242.30,378.54 L243.30,378.29 L244.30,378.04 L245.30,377.80 L246.30,377.55 L247.30,377.30 L248.30,377.10 L249.30,376.90 L250.30,376.70 L251.30,376.50 L252.30,376.29 L253.30,376.09 L254.30,375.89 L255.30,375.69 L256.30,375.49 L257.30,375.29 L258.30,375.09 L259.30,374.89 L260.30,374.69 L261.30,374.48 L262.30,374.28 L263.30,374.08 L264.30,373.88 L265.30,373.68 L266.30,373.48 L267.30,373.28 L268.30,373.08 L269.30,372.88 L270.30,372.67 L271.30,372.47 L272.30,372.27 L273.30,372.07 L274.30,371.87 L275.30,371.67 L276.30,371.47 L277.30,371.27 L278.30,371.07 L279.30,370.86 L280.30,370.66 L281.30,370.46 L282.30,370.26 L283.30,370.06 L284.30,369.88 L285.30,369.70 L286.30,369.52 L287.30,369.34 L288.30,369.16 L289.30,368.98 L290.30,368.81 L291.30,368.63 L292.30,368.45 L293.30,368.27 L294.30,368.09 L295.30,367.92 L296.30,367.74 L297.30,367.56 L298.30,367.38 L299.30,367.20 L300.30,367.03 L301.30,366.85 L302.30,366.67 L303.30,366.49 L304.30,366.31 L305.30,366.14 L306.30,365.94 L307.30,365.74 L308.30,365.53 L309.30,365.33 L310.30,365.13 L311.30,364.93 L312.30,364.73 L313.30,364.53 L314.30,364.32 L315.30,364.12 L316.30,363.92 L317.30,363.72 L318.30,363.52 L319.30,363.31 L320.30,363.11 L321.30,362.91 L322.30,362.71 L323.30,362.51 L324.30,362.31 L325.30,362.10 L326.30,361.90 L327.30,361.70 L328.30,361.50 L329.30,361.30 L330.30,361.09 L331.30,360.89 L332.30,360.69 L333.30,360.49 L334.30,360.29 L335.30,360.09 L336.30,359.88 L337.30,359.68 L338.30,359.48 L339.30,359.29 L340.30,359.11 L341.30,358.92 L342.30,358.73 L343.30,358.54 L344.30,358.35 L345.30,358.16 L346.30,357.98 L347.30,357.79 L348.30,357.60 L349.30,357.41 L350.30,357.22 L351.30,357.04 L352.30,356.85 L353.30,356.66 L354.30,356.47 L355.30,356.28 L356.30,356.10 L357.30,355.91 L358.30,355.72 L359.30,355.53 L360.30,354.60 L361.30,352.41 L362.30,354.56 L363.30,355.11 L364.30,354.97 L365.30,354.84 L366.30,354.71 L367.30,354.58 L368.30,354.44 L369.30,354.31 L370.30,354.18 L371.30,353.98 L372.30,353.68 L373.30,353.37 L374.30,353.07 L375.30,352.77 L376.30,352.47 L377.30,352.16 L378.30,351.86 L379.30,351.56 L380.30,351.25 L381.30,350.95 L382.30,350.75 L383.30,350.65 L384.30,350.56 L385.30,350.46 L386.30,350.36 L387.30,350.26 L388.30,350.17 L389.30,350.07 L390.30,349.97 L391.30,349.87 L392.30,349.78 L393.30,349.68 L394.30,349.58 L395.30,349.48 L396.30,349.39 L397.30,349.29 L398.30,349.19 L399.30,349.14 L400.30,349.09 L401.30,349.04 L402.30,348.99 L403.30,348.94 L404.30,348.89 L405.30,348.84 L406.30,348.79 L407.30,348.74 L408.30,348.69 L409.30,348.64 L410.30,348.59 L411.30,348.57 L412.30,348.55 L413.30,348.53 L414.30,348.51 L415.30,348.49 L416.30,348.47 L417.30,348.45 L418.30,348.43 L419.30,348.41 L420.30,348.43 L421.30,348.54 L422.30,348.65 L423.30,348.76 L424.30,348.87 L425.30,348.98 L426.30,349.09 L427.30,349.20 L428.30,349.31 L429.30,349.43 L430.30,349.54 L431.30,349.65 L432.30,349.76 L433.30,349.74 L434.30,349.64 L435.30,349.54 L436.30,349.44 L437.30,349.34 L438.30,349.24 L439.30,349.14 L440.30,349.04 L441.30,348.94 L442.30,348.84 L443.30,348.74 L444.30,348.64 L445.30,348.54 L446.30,348.44 L447.30,348.34 L448.30,348.24 L449.30,348.14 L450.30,348.13 L451.30,348.18 L452.30,348.22 L453.30,348.27 L454.30,348.32 L455.30,348.36 L456.30,348.41 L457.30,348.46 L458.30,348.54 L459.30,348.95 L460.30,349.35 L461.30,349.76 L462.30,350.17 L463.30,350.57 L464.30,350.90 L465.30,350.92 L466.30,350.94 L467.30,350.95 L468.30,350.97 L469.30,350.99 L470.30,351.00 L471.30,351.02 L472.30,351.04 L473.30,351.05 L474.30,351.07 L475.30,351.09 L476.30,351.11 L477.30,351.12 L478.30,351.14 L479.30,351.16 L480.30,351.17 L481.30,351.19 L482.30,351.21 L483.30,351.22 L484.30,351.24 L485.30,351.26 L486.30,351.27 L487.30,351.29 L488.30,351.45 L489.30,351.83 L490.30,352.21 L491.30,352.60 L492.30,352.92 L493.30,353.00 L494.30,353.08 L495.30,353.16 L496.30,353.24 L497.30,353.32 L498.30,353.40 L499.30,353.48 L500.30,353.56 L501.30,353.64 L502.30,353.72 L503.30,353.80 L504.30,353.88 L505.30,353.96 L506.30,354.04 L507.30,354.12 L508.30,354.20 L509.30,354.28 L510.30,354.36 L511.30,354.44 L512.30,354.52 L513.30,354.60 L514.30,354.76 L515.30,354.93 L516.30,355.09 L517.30,355.26 L518.30,355.42 L519.30,355.59 L520.30,355.75 L521.30,355.92 L522.30,356.08 L523.30,356.25 L524.30,356.41 L525.30,356.58 L526.30,356.74 L527.30,356.91 L528.30,357.07 L529.30,357.24 L530.30,357.40 L531.30,357.56 L532.30,357.73 L533.30,357.89 L534.30,358.06 L535.30,358.22 L536.30,358.39 L537.30,358.55 L538.30,358.72 L539.30,358.91 L540.30,359.14 L541.30,359.37 L542.30,359.59 L543.30,359.82 L544.30,360.05 L545.30,360.27 L546.30,360.50 L547.30,360.72 L548.30,360.95 L549.30,361.18 L550.30,361.40 L551.30,361.63 L552.30,361.86 L553.30,362.08 L554.30,362.31 L555.30,362.54 L556.30,362.76 L557.30,362.99 L558.30,363.22 L559.30,363.44 L560.30,363.70 L561.30,364.02 L562.30,364.34 L563.30,364.66 L564.30,364.99 L565.30,365.31 L566.30,365.63 L567.30,365.95 L568.30,366.28 L569.30,366.60 L570.30,366.92 L571.30,367.25 L572.30,367.57 L573.30,367.89 L574.30,368.21 L575.30,368.54 L576.30,368.86 L577.30,369.18 L578.30,369.50 L579.30,369.79 L580.30,370.06 L581.30,370.33 L582.30,370.61 L583.30,370.88 L584.30,371.15 L585.30,371.42 L586.30,371.70 L587.30,371.97 L588.30,372.24 L589.30,372.51 L590.30,372.78 L591.30,373.06 L592.30,373.33 L593.30,373.60 L594.30,373.87 L595.30,374.08 L596.30,374.28 L597.30,374.49 L598.30,374.69 L599.30,374.89 L600.30,375.09 L601.30,375.30 L602.30,375.50 L603.30,375.70 L604.30,375.91 L605.30,376.11 L606.30,376.31 L607.30,376.51 L608.30,376.72 L609.30,376.92 L610.30,377.11 L611.30,377.26 L612.30,377.41 L613.30,377.55 L614.30,377.70 L615.30,377.85 L616.30,377.99 L617.30,378.14 L618.30,378.29 L619.30,378.43 L620.30,378.58 L621.30,378.73 L622.30,378.87 L623.30,379.02 L624.30,379.17 L625.30,379.31 L626.30,379.53 L627.30,379.87 L628.30,380.20 L629.30,380.94 L630.30,381.68 L631.30,382.22 L632.30,382.27 L633.30,382.33 L634.30,382.38 L635.30,382.44 L636.30,382.49 L637.30,382.55 L638.30,382.60 L639.30,382.65 L640.30,382.71 L641.30,382.76 L642.30,382.82 L643.30,382.87 L644.30,382.93 L645.30,382.98 L646.30,383.14 L647.30,383.34 L648.30,383.54 L649.30,383.74 L650.30,383.81 L651.30,383.83 L652.30,383.84 L653.30,383.86 L654.30,383.88 L655.30,383.89 L656.30,383.91 L657.30,383.92 L658.30,383.94 L659.30,383.96 L660.30,383.97 L661.30,383.99 L662.30,384.00 L663.30,384.02 L664.30,384.04 L665.30,384.05 L666.30,384.07 L667.30,384.08 L668.30,384.10 L669.30,384.12 L670.30,384.13 L671.30,384.15 L672.30,384.16 L673.30,384.18 L674.30,384.20" fill="none" stroke="#ff0000" stroke-width="4.9" stroke-linejoin="round" stroke-linecap="round" stroke-dasharray="0 3.6"/>
<path d="M140.00,385.50 L140.40,404.50 L143.60,393.60 L147.30,375.50" fill="none" stroke="#ff0000" stroke-width="3.2" stroke-linejoin="round" stroke-linecap="round" />
<path d="M147.80,480.58 L148.60,473.03 L149.40,480.70 L150.20,472.77 L151.00,481.56 L151.80,473.18 L152.60,481.68 L153.40,473.60 L154.20,481.75 L155.00,474.52 L155.80,481.96 L156.60,475.57 L157.40,483.16 L158.20,474.95 L159.00,483.48 L159.80,475.53 L160.60,482.95 L161.40,474.78 L162.20,482.57 L163.00,474.82 L163.80,482.87 L164.60,475.56 L165.40,483.00 L166.20,474.88 L167.00,482.13 L167.80,475.86 L168.60,482.59 L169.40,474.25 L170.20,482.76 L171.00,475.04 L171.80,481.42 L172.60,474.77 L173.40,482.00 L174.20,475.01 L175.00,482.07 L175.80,473.78 L176.60,481.58 L177.40,474.58 L178.20,481.70 L179.00,473.18 L179.80,481.58 L180.60,472.87 L181.40,481.28 L182.20,472.80 L183.00,480.98 L183.80,472.72 L184.60,479.61 L185.40,472.05 L186.20,480.16 L187.00,473.08 L187.80,480.00 L188.60,471.38 L189.40,479.18 L190.20,470.98 L191.00,479.20 L191.80,472.12 L192.60,478.68 L193.40,470.38 L194.20,477.54 L195.00,471.33 L195.80,478.34 L196.60,469.89 L197.40,478.34 L198.20,469.70 L199.00,478.62 L199.80,469.39 L200.60,477.85 L201.40,469.15 L202.20,477.02 L203.00,469.01 L203.80,477.17 L204.60,469.82 L205.40,476.80 L206.20,468.44 L207.00,476.72 L207.80,469.29 L208.60,476.66 L209.40,468.39 L210.20,476.65 L211.00,468.17 L211.80,475.05 L212.60,467.67 L213.40,476.04 L214.20,467.86 L215.00,475.75 L215.80,468.30 L216.60,474.61 L217.40,468.16 L218.20,475.53 L219.00,466.44 L219.80,475.45 L220.60,466.88 L221.40,473.83 L222.20,468.02 L223.00,473.68 L223.80,466.54 L224.60,474.92 L225.40,466.93 L226.20,473.70 L227.00,466.83 L227.80,474.66 L228.60,467.40 L229.40,473.81 L230.20,466.20 L231.00,474.60 L231.80,467.73 L232.60,474.59 L233.40,467.13 L234.20,474.89 L235.00,467.66 L235.80,474.95 L236.60,467.96 L237.40,474.86 L238.20,465.82 L239.00,473.62 L239.80,467.04 L240.60,475.02 L241.40,467.93 L242.20,475.46 L243.00,467.18 L243.80,475.70 L244.60,467.35 L245.40,475.85 L246.20,468.12 L247.00,476.01 L247.80,468.22 L248.60,476.80 L249.40,468.37 L250.20,476.80 L251.00,468.45 L251.80,476.36 L252.60,468.97 L253.40,477.11 L254.20,469.22 L255.00,477.91 L255.80,470.56 L256.60,477.90 L257.40,471.34 L258.20,478.21 L259.00,470.83 L259.80,478.88 L260.60,471.18 L261.40,478.83 L262.20,472.63 L263.00,479.51 L263.80,472.74 L264.60,480.39 L265.40,472.03 L266.20,480.81 L267.00,473.40 L267.80,481.18 L268.60,473.52 L269.40,480.37 L270.20,473.30 L271.00,481.77 L271.80,475.19 L272.60,482.38 L273.40,474.44 L274.20,482.72 L275.00,474.49 L275.80,482.63 L276.60,474.70 L277.40,482.84 L278.20,475.04 L279.00,482.81 L279.80,475.39 L280.60,484.15 L281.40,475.84 L282.20,484.20 L283.00,477.13 L283.80,484.79 L284.60,476.92 L285.40,485.86 L286.20,477.50 L287.00,485.50 L287.80,477.73 L288.60,485.84 L289.40,477.43 L290.20,485.86 L291.00,478.25 L291.80,486.42 L292.60,478.55 L293.40,486.86 L294.20,478.45 L295.00,487.06 L295.80,479.71 L296.60,487.16 L297.40,478.64 L298.20,488.52 L299.00,480.36 L299.80,488.23 L300.60,481.26 L301.40,487.57 L302.20,480.62 L303.00,488.76 L303.80,481.34 L304.60,489.18 L305.40,481.74 L306.20,489.46 L307.00,481.31 L307.80,490.08 L308.60,481.77 L309.40,490.43 L310.20,483.24 L311.00,490.68 L311.80,482.52 L312.60,491.12 L313.40,482.86 L314.20,490.01 L315.00,483.20 L315.80,491.73 L316.60,483.46 L317.40,491.88 L318.20,483.89 L319.00,492.60 L319.80,484.20 L320.60,493.66 L321.40,484.69 L322.20,492.77 L323.00,485.79 L323.80,492.85 L324.60,485.49 L325.40,492.47 L326.20,486.44 L327.00,494.38 L327.80,487.23 L328.60,493.87 L329.40,486.34 L330.20,494.68 L331.00,487.70 L331.80,494.90 L332.60,487.77 L333.40,496.41 L334.20,487.40 L335.00,496.14 L335.80,488.23 L336.60,495.88 L337.40,487.77 L338.20,495.84 L339.00,488.85 L339.80,496.52 L340.60,489.66 L341.40,497.56 L342.20,490.00 L343.00,497.04 L343.80,489.88 L344.60,497.89 L345.40,490.77 L346.20,497.94 L347.00,490.20 L347.80,498.05 L348.60,490.32 L349.40,499.27 L350.20,491.57 L351.00,498.89 L351.80,491.61 L352.60,499.61 L353.40,492.80 L354.20,498.76 L355.00,491.87 L355.80,499.56 L356.60,492.53 L357.40,500.90 L358.20,492.61 L359.00,501.28 L359.80,494.34 L360.60,500.58 L361.40,494.48 L362.20,501.91 L363.00,493.24 L363.80,502.33 L364.60,494.23 L365.40,502.65 L366.20,494.46 L367.00,503.12 L367.80,495.87 L368.60,502.19 L369.40,496.48 L370.20,503.76 L371.00,497.08 L371.80,503.99 L372.60,495.13 L373.40,504.40 L374.20,496.06 L375.00,504.54 L375.80,496.57 L376.60,504.64 L377.40,497.63 L378.20,504.45 L379.00,498.01 L379.80,505.18 L380.60,497.68 L381.40,504.62 L382.20,496.47 L383.00,504.38 L383.80,497.62 L384.60,505.83 L385.40,499.01 L386.20,505.51 L387.00,498.20 L387.80,506.37 L388.60,498.00 L389.40,506.24 L390.20,499.46 L391.00,506.54 L391.80,498.43 L392.60,506.89 L393.40,498.67 L394.20,506.74 L395.00,499.64 L395.80,507.15 L396.60,499.13 L397.40,507.57 L398.20,500.56 L399.00,507.33 L399.80,500.41 L400.60,507.78 L401.40,499.64 L402.20,506.60 L403.00,500.06 L403.80,508.22 L404.60,500.98 L405.40,508.53 L406.20,500.11 L407.00,507.45 L407.80,501.53 L408.60,508.68 L409.40,500.62 L410.20,507.44 L411.00,501.01 L411.80,508.69 L412.60,500.50 L413.40,509.09 L414.20,501.33 L415.00,509.31 L415.80,501.47 L416.60,509.48 L417.40,501.41 L418.20,509.41 L419.00,501.01 L419.80,509.66 L420.60,502.75 L421.40,508.71 L422.20,501.52 L423.00,508.63 L423.80,501.04 L424.60,509.87 L425.40,502.02 L426.20,509.70 L427.00,501.27 L427.80,510.36 L428.60,502.68 L429.40,509.50 L430.20,502.31 L431.00,508.99 L431.80,502.95 L432.60,510.38 L433.40,501.99 L434.20,510.04 L435.00,501.90 L435.80,509.70 L436.60,501.83 L437.40,510.31 L438.20,501.10 L439.00,510.35 L439.80,503.03 L440.60,509.47 L441.40,503.10 L442.20,510.24 L443.00,501.87 L443.80,509.56 L444.60,501.88 L445.40,510.89 L446.20,501.74 L447.00,508.73 L447.80,503.05 L448.60,509.94 L449.40,502.60 L450.20,510.09 L451.00,501.70 L451.80,509.99 L452.60,502.01 L453.40,509.73 L454.20,501.62 L455.00,509.96 L455.80,502.69 L456.60,509.02 L457.40,501.47 L458.20,508.40 L459.00,501.35 L459.80,509.66 L460.60,501.20 L461.40,508.43 L462.20,501.87 L463.00,509.57 L463.80,502.43 L464.60,509.24 L465.40,501.09 L466.20,507.92 L467.00,501.64 L467.80,508.04 L468.60,501.02 L469.40,508.78 L470.20,501.23 L471.00,508.70 L471.80,500.17 L472.60,508.58 L473.40,500.06 L474.20,507.15 L475.00,499.82 L475.80,508.20 L476.60,500.34 L477.40,507.95 L478.20,499.96 L479.00,506.96 L479.80,499.88 L480.60,506.55 L481.40,499.50 L482.20,506.63 L483.00,498.91 L483.80,507.28 L484.60,499.16 L485.40,506.89 L486.20,498.92 L487.00,506.03 L487.80,500.01 L488.60,506.65 L489.40,499.51 L490.20,506.92 L491.00,498.24 L491.80,505.19 L492.60,499.39 L493.40,505.29 L494.20,497.89 L495.00,504.85 L495.80,498.14 L496.60,505.99 L497.40,497.39 L498.20,505.75 L499.00,497.82 L499.80,505.63 L500.60,497.66 L501.40,505.26 L502.20,497.72 L503.00,505.20 L503.80,496.75 L504.60,504.34 L505.40,496.33 L506.20,504.51 L507.00,496.22 L507.80,504.41 L508.60,496.06 L509.40,503.15 L510.20,495.85 L511.00,503.28 L511.80,495.42 L512.60,503.63 L513.40,495.46 L514.20,503.31 L515.00,494.91 L515.80,502.71 L516.60,494.64 L517.40,502.86 L518.20,494.37 L519.00,502.36 L519.80,494.07 L520.60,501.48 L521.40,493.83 L522.20,500.80 L523.00,493.16 L523.80,500.57 L524.60,494.51 L525.40,500.57 L526.20,493.90 L527.00,501.11 L527.80,493.73 L528.60,501.01 L529.40,492.77 L530.20,500.78 L531.00,492.90 L531.80,500.51 L532.60,491.99 L533.40,499.11 L534.20,492.06 L535.00,499.32 L535.80,491.49 L536.60,499.34 L537.40,491.17 L538.20,499.26 L539.00,490.86 L539.80,497.95 L540.60,490.43 L541.40,498.15 L542.20,489.75 L543.00,498.12 L543.80,489.07 L544.60,497.11 L545.40,489.84 L546.20,497.67 L547.00,489.01 L547.80,495.57 L548.60,489.40 L549.40,495.78 L550.20,487.91 L551.00,495.88 L551.80,488.82 L552.60,494.90 L553.40,487.11 L554.20,494.60 L555.00,488.02 L555.80,494.08 L556.60,486.76 L557.40,494.70 L558.20,486.39 L559.00,494.39 L559.80,485.63 L560.60,493.24 L561.40,485.21 L562.20,493.53 L563.00,485.39 L563.80,491.91 L564.60,484.86 L565.40,492.69 L566.20,484.53 L567.00,491.26 L567.80,485.04 L568.60,491.65 L569.40,483.36 L570.20,491.25 L571.00,483.70 L571.80,490.35 L572.60,482.75 L573.40,491.13 L574.20,481.77 L575.00,489.55 L575.80,481.77 L576.60,489.71 L577.40,480.91 L578.20,489.31 L579.00,480.52 L579.80,488.81 L580.60,480.63 L581.40,487.84 L582.20,479.68 L583.00,487.86 L583.80,479.07 L584.60,486.14 L585.40,478.72 L586.20,486.76 L587.00,478.37 L587.80,485.50 L588.60,478.68 L589.40,485.47 L590.20,476.71 L591.00,484.88 L591.80,476.39 L592.60,484.82 L593.40,477.48 L594.20,484.44 L595.00,476.15 L595.80,483.12 L596.60,475.57 L597.40,483.85 L598.20,476.07 L599.00,483.53 L599.80,475.65 L600.60,482.32 L601.40,474.52 L602.20,483.49 L603.00,474.30 L603.80,481.78 L604.60,474.60 L605.40,481.74 L606.20,474.44 L607.00,481.75 L607.80,474.56 L608.60,480.95 L609.40,472.81 L610.20,480.23 L611.00,473.23 L611.80,479.51 L612.60,472.06 L613.40,479.77 L614.20,472.38 L615.00,479.79 L615.80,472.19 L616.60,479.58 L617.40,471.68 L618.20,479.56 L619.00,470.91 L619.80,480.04 L620.60,470.66 L621.40,478.92 L622.20,469.69 L623.00,478.09 L623.80,470.91 L624.60,478.59 L625.40,470.08 L626.20,477.27 L627.00,469.62 L627.80,476.75 L628.60,469.37 L629.40,478.51 L630.20,470.25 L631.00,476.93 L631.80,469.48 L632.60,477.30 L633.40,469.50 L634.20,476.89 L635.00,468.33 L635.80,476.67 L636.60,468.30 L637.40,475.10 L638.20,469.05 L639.00,476.38 L639.80,467.99 L640.60,475.99 L641.40,467.95 L642.20,474.79 L643.00,468.36 L643.80,475.78 L644.60,468.01 L645.40,475.58 L646.20,467.27 L647.00,475.33 L647.80,466.87 L648.60,475.07 L649.40,466.61 L650.20,474.20 L651.00,466.30 L651.80,474.77 L652.60,466.86 L653.40,473.95 L654.20,466.14 L655.00,473.11 L655.80,466.24 L656.60,474.11 L657.40,466.78 L658.20,473.75 L659.00,465.36 L659.80,473.38 L660.60,466.10 L661.40,473.57 L662.20,465.18 L663.00,473.01 L663.80,465.12 L664.60,472.69 L665.40,465.04 L666.20,472.33 L667.00,465.02 L667.80,472.74 L668.60,464.94 L669.40,473.37 L670.20,465.27 L671.00,473.24 L671.80,466.30 L672.60,473.33 L673.40,464.73 L674.20,471.74 L675.00,465.52" fill="none" stroke="#0000ff" stroke-width="2.0" stroke-linejoin="round" stroke-linecap="round" stroke-linejoin="miter"/>
<path d="M140.20,427.50 L140.20,458.50" fill="none" stroke="#0000ff" stroke-width="2.4" stroke-linejoin="round" stroke-linecap="round" stroke-linecap="butt"/>
<path d="M139.4,441 L141.6,440.5 L145.2,452 L148.6,467 L148.6,473 L145.6,473 L142.8,462 L140.6,455 L139.4,458.8 Z" fill="#0000ff"/>
<path d="M983.50,257.50 L984.50,257.18 L985.50,256.87 L986.50,256.55 L987.50,256.23 L988.50,255.92 L989.50,255.60 L990.50,255.60 L991.50,255.60 L992.50,255.60 L993.50,255.60 L994.50,255.60 L995.50,255.60 L996.50,255.60 L997.50,255.60 L998.50,255.60 L999.50,255.60 L1000.50,255.60 L1001.50,255.60 L1002.50,255.60 L1003.50,255.60 L1004.50,255.63 L1005.50,255.72 L1006.50,255.81 L1007.50,255.90 L1008.50,255.98 L1009.50,256.07 L1010.50,256.16 L1011.50,256.24 L1012.50,256.33 L1013.50,256.42 L1014.50,256.51 L1015.50,256.59 L1016.50,256.68 L1017.50,256.77 L1018.50,256.86 L1019.50,256.94 L1020.50,257.03 L1021.50,257.12 L1022.50,257.20 L1023.50,257.29 L1024.50,257.38 L1025.50,257.47 L1026.50,257.43 L1027.50,257.32 L1028.50,257.21 L1029.50,257.10 L1030.50,256.99 L1031.50,256.88 L1032.50,256.76 L1033.50,256.65 L1034.50,256.54 L1035.50,256.43 L1036.50,256.32 L1037.50,256.21 L1038.50,256.09 L1039.50,255.98 L1040.50,255.87 L1041.50,255.76 L1042.50,255.65 L1043.50,255.54 L1044.50,255.43 L1045.50,255.31 L1046.50,255.20 L1047.50,255.09 L1048.50,254.98 L1049.50,254.87 L1050.50,254.76 L1051.50,254.64 L1052.50,254.53 L1053.50,254.78 L1054.50,255.17 L1055.50,255.57 L1056.50,255.97 L1057.50,256.36 L1058.50,256.76 L1059.50,256.87 L1060.50,256.94 L1061.50,257.01 L1062.50,257.09 L1063.50,257.16 L1064.50,257.23 L1065.50,257.31 L1066.50,257.38 L1067.50,257.45 L1068.50,257.53 L1069.50,257.60 L1070.50,257.48 L1071.50,257.35 L1072.50,257.23 L1073.50,257.10 L1074.50,256.98 L1075.50,256.85 L1076.50,256.73 L1077.50,256.60 L1078.50,256.48 L1079.50,256.35 L1080.50,256.23 L1081.50,256.10 L1082.50,255.97 L1083.50,255.85 L1084.50,255.72 L1085.50,255.60 L1086.50,255.69 L1087.50,256.62 L1088.50,257.55 L1089.50,258.20 L1090.50,258.18 L1091.50,258.17 L1092.50,258.16 L1093.50,258.14 L1094.50,258.13 L1095.50,258.12 L1096.50,258.10 L1097.50,258.09 L1098.50,258.08 L1099.50,258.06 L1100.50,258.05 L1101.50,258.04 L1102.50,258.02 L1103.50,258.01 L1104.50,258.00 L1105.50,257.98 L1106.50,257.97 L1107.50,257.96 L1108.50,257.94 L1109.50,257.93 L1110.50,257.92 L1111.50,257.90 L1112.50,257.89 L1113.50,257.87 L1114.50,257.86 L1115.50,257.85 L1116.50,257.83 L1117.50,257.82 L1118.50,257.81 L1119.50,257.78 L1120.50,257.74 L1121.50,257.70 L1122.50,257.65 L1123.50,257.61 L1124.50,257.57 L1125.50,257.53 L1126.50,257.48 L1127.50,257.44 L1128.50,257.40 L1129.50,257.35 L1130.50,257.31 L1131.50,257.27 L1132.50,257.23 L1133.50,257.18 L1134.50,257.14 L1135.50,257.10 L1136.50,257.06 L1137.50,257.01 L1138.50,256.97 L1139.50,256.93 L1140.50,256.88 L1141.50,256.84 L1142.50,256.80 L1143.50,256.76 L1144.50,256.71 L1145.50,256.67 L1146.50,256.63 L1147.50,256.58 L1148.50,256.54 L1149.50,256.50 L1150.50,256.46 L1151.50,256.41 L1152.50,256.66 L1153.50,257.04 L1154.50,257.42 L1155.50,257.80 L1156.50,257.79 L1157.50,257.77 L1158.50,257.76 L1159.50,257.74 L1160.50,257.73 L1161.50,257.72 L1162.50,257.70 L1163.50,257.69 L1164.50,257.67 L1165.50,257.66 L1166.50,257.64 L1167.50,257.63 L1168.50,257.62 L1169.50,257.60 L1170.50,257.59 L1171.50,257.57 L1172.50,257.56 L1173.50,257.55 L1174.50,257.53 L1175.50,257.52 L1176.50,257.50 L1177.50,257.49 L1178.50,257.47 L1179.50,257.46 L1180.50,257.45 L1181.50,257.43 L1182.50,257.42 L1183.50,257.40 L1184.50,257.39 L1185.50,257.38 L1186.50,257.36 L1187.50,257.35 L1188.50,257.33 L1189.50,257.32 L1190.50,257.31 L1191.50,257.29 L1192.50,257.28 L1193.50,257.26 L1194.50,257.25 L1195.50,257.23 L1196.50,257.22 L1197.50,257.21 L1198.50,257.19 L1199.50,257.18 L1200.50,257.16 L1201.50,257.15 L1202.50,257.14 L1203.50,257.12 L1204.50,257.11 L1205.50,257.09 L1206.50,257.07 L1207.50,257.05 L1208.50,257.04 L1209.50,257.02 L1210.50,257.00 L1211.50,256.98 L1212.50,256.96 L1213.50,256.94 L1214.50,256.93 L1215.50,256.91 L1216.50,256.89 L1217.50,256.87 L1218.50,256.85 L1219.50,256.83 L1220.50,256.82 L1221.50,256.80 L1222.50,256.78 L1223.50,256.76 L1224.50,256.74 L1225.50,256.72 L1226.50,256.71 L1227.50,256.78 L1228.50,256.90 L1229.50,257.01 L1230.50,257.13 L1231.50,257.25 L1232.50,257.36 L1233.50,257.48 L1234.50,257.60 L1235.50,257.71 L1236.50,257.83 L1237.50,257.95 L1238.50,258.06 L1239.50,258.18 L1240.50,258.29 L1241.50,258.41 L1242.50,258.53 L1243.50,258.64 L1244.50,258.76 L1245.50,258.88 L1246.50,258.88 L1247.50,258.86 L1248.50,258.84 L1249.50,258.82 L1250.50,258.79 L1251.50,258.77 L1252.50,258.75 L1253.50,258.73 L1254.50,258.71 L1255.50,258.69 L1256.50,258.66 L1257.50,258.64 L1258.50,258.62 L1259.50,258.60 L1260.50,258.58 L1261.50,258.55 L1262.50,258.53 L1263.50,258.51 L1264.50,258.49 L1265.50,258.47 L1266.50,258.44 L1267.50,258.42 L1268.50,258.40 L1269.50,258.38 L1270.50,258.36 L1271.50,258.34 L1272.50,258.31 L1273.50,258.29 L1274.50,258.27 L1275.50,258.25 L1276.50,258.23 L1277.50,258.20 L1278.50,258.18 L1279.50,258.15 L1280.50,258.12 L1281.50,258.10 L1282.50,258.07 L1283.50,258.04 L1284.50,258.01 L1285.50,257.99 L1286.50,257.96 L1287.50,257.93 L1288.50,257.90 L1289.50,257.88 L1290.50,257.85 L1291.50,257.82 L1292.50,257.79 L1293.50,257.77 L1294.50,257.74 L1295.50,257.71 L1296.50,257.68 L1297.50,257.66 L1298.50,257.63 L1299.50,257.60 L1300.50,257.57 L1301.50,257.55 L1302.50,257.52 L1303.50,257.94 L1304.50,259.39 L1305.50,260.70 L1306.50,260.68 L1307.50,260.66 L1308.50,260.64 L1309.50,260.62 L1310.50,260.60 L1311.50,260.57 L1312.50,260.55 L1313.50,260.53 L1314.50,260.51 L1315.50,260.49 L1316.50,260.47 L1317.50,260.45 L1318.50,260.43 L1319.50,260.41 L1320.50,260.42 L1321.50,260.45 L1322.50,260.49 L1323.50,260.52 L1324.50,260.56 L1325.50,260.60 L1326.50,260.63 L1327.50,260.67 L1328.50,260.70 L1329.50,260.74 L1330.50,260.77 L1331.50,260.81 L1332.50,260.85 L1333.50,260.88 L1334.50,260.92 L1335.50,260.95 L1336.50,260.99 L1337.50,261.03 L1338.50,261.06 L1339.50,261.10 L1340.50,261.00 L1341.50,260.89 L1342.50,260.79 L1343.50,260.68 L1344.50,260.57 L1345.50,260.46 L1346.50,260.35 L1347.50,260.24 L1348.50,260.14 L1349.50,260.03 L1350.50,259.92 L1351.50,259.81 L1352.50,259.70 L1353.50,259.59 L1354.50,259.49 L1355.50,259.38 L1356.50,259.27 L1357.50,259.16 L1358.50,259.05 L1359.50,258.94 L1360.50,258.84 L1361.50,258.73 L1362.50,258.62 L1363.50,258.51 L1364.50,258.49 L1365.50,258.48 L1366.50,258.48 L1367.50,258.47 L1368.50,258.46 L1369.50,258.45 L1370.50,258.44 L1371.50,258.43 L1372.50,258.43 L1373.50,258.42 L1374.50,258.41 L1375.50,258.40 L1376.50,258.39 L1377.50,258.39 L1378.50,258.38 L1379.50,258.37 L1380.50,258.36 L1381.50,258.35 L1382.50,258.34 L1383.50,258.34 L1384.50,258.33 L1385.50,258.32 L1386.50,258.31 L1387.50,258.30 L1388.50,258.29 L1389.50,258.29 L1390.50,258.28 L1391.50,258.27 L1392.50,258.26 L1393.50,258.25 L1394.50,258.25 L1395.50,258.24 L1396.50,258.23 L1397.50,258.22 L1398.50,258.21 L1399.50,258.20 L1400.50,258.25 L1401.50,258.34 L1402.50,258.44 L1403.50,258.54 L1404.50,258.63 L1405.50,258.73 L1406.50,258.82 L1407.50,258.89 L1408.50,258.86 L1409.50,258.83 L1410.50,258.80 L1411.50,258.77 L1412.50,258.74 L1413.50,258.70 L1414.50,258.67 L1415.50,258.64 L1416.50,258.61 L1417.50,258.58 L1418.50,258.55 L1419.50,258.52 L1420.50,258.48 L1421.50,258.44 L1422.50,258.40 L1423.50,258.37 L1424.50,258.33 L1425.50,258.29 L1426.50,258.25 L1427.50,258.21 L1428.50,258.17 L1429.50,258.13 L1430.50,258.10 L1431.50,258.06 L1432.50,258.02 L1433.50,257.98 L1434.50,257.94 L1435.50,257.90 L1436.50,257.87 L1437.50,257.83 L1438.50,257.95 L1439.50,258.45 L1440.50,258.95 L1441.50,259.45 L1442.50,259.57 L1443.50,259.54 L1444.50,259.50 L1445.50,259.46 L1446.50,259.42 L1447.50,259.38 L1448.50,259.35 L1449.50,259.31 L1450.50,259.27 L1451.50,259.23 L1452.50,259.20 L1453.50,259.16 L1454.50,259.12 L1455.50,259.08 L1456.50,259.04 L1457.50,259.01 L1458.50,258.97 L1459.50,258.93 L1460.50,258.89 L1461.50,258.86 L1462.50,258.82 L1463.50,258.78 L1464.50,258.74 L1465.50,258.70 L1466.50,258.67 L1467.50,258.63 L1468.50,258.59 L1469.50,258.55 L1470.50,258.52 L1471.50,258.53 L1472.50,258.57 L1473.50,258.61 L1474.50,258.65 L1475.50,258.70 L1476.50,258.74 L1477.50,258.78 L1478.50,258.83 L1479.50,258.87 L1480.50,258.91 L1481.50,258.96 L1482.50,259.00 L1483.50,259.04 L1484.50,259.08 L1485.50,259.13 L1486.50,259.17 L1487.50,259.21 L1488.50,259.26 L1489.50,259.30 L1490.50,259.34 L1491.50,259.39 L1492.50,259.43 L1493.50,259.47 L1494.50,259.51 L1495.50,259.56 L1496.50,259.60 L1497.50,259.64 L1498.50,259.69 L1499.50,259.73 L1500.50,259.77 L1501.50,259.82 L1502.50,259.86 L1503.50,259.90 L1504.50,259.94 L1505.50,259.99" fill="none" stroke="#000" stroke-width="3.8" stroke-linejoin="round" stroke-linecap="round" />
<path d="M983.50,257.50 L984.50,257.18 L985.50,256.87 L986.50,256.55 L987.50,256.23 L988.50,255.92 L989.50,255.60 L990.50,255.60 L991.50,255.60 L992.50,255.60 L993.50,255.60 L994.50,255.60 L995.50,255.60 L996.50,255.60 L997.50,255.60 L998.50,255.60 L999.50,255.60 L1000.50,255.60 L1001.50,255.60 L1002.50,255.60 L1003.50,255.60 L1004.50,255.63 L1005.50,255.72 L1006.50,255.81 L1007.50,255.90 L1008.50,255.98 L1009.50,256.07 L1010.50,256.16 L1011.50,256.24 L1012.50,256.33 L1013.50,256.42 L1014.50,256.51 L1015.50,256.59 L1016.50,256.68 L1017.50,256.77 L1018.50,256.86 L1019.50,256.94 L1020.50,257.03 L1021.50,257.12 L1022.50,257.20 L1023.50,257.29 L1024.50,257.38 L1025.50,257.47 L1026.50,257.43 L1027.50,257.32 L1028.50,257.21 L1029.50,257.10 L1030.50,256.99 L1031.50,256.88 L1032.50,256.76 L1033.50,256.65 L1034.50,256.54 L1035.50,256.43 L1036.50,256.32 L1037.50,256.21 L1038.50,256.09 L1039.50,255.98 L1040.50,255.87 L1041.50,255.76 L1042.50,255.65 L1043.50,255.54 L1044.50,255.43 L1045.50,255.31 L1046.50,255.20 L1047.50,255.09 L1048.50,254.98 L1049.50,254.87 L1050.50,254.76 L1051.50,254.64 L1052.50,254.53 L1053.50,254.78 L1054.50,255.17 L1055.50,255.57 L1056.50,255.97 L1057.50,256.36 L1058.50,256.76 L1059.50,256.87 L1060.50,256.94 L1061.50,257.01 L1062.50,257.09 L1063.50,257.16 L1064.50,257.23 L1065.50,257.31 L1066.50,257.38 L1067.50,257.45 L1068.50,257.53 L1069.50,257.60 L1070.50,257.48 L1071.50,257.35 L1072.50,257.23 L1073.50,257.10 L1074.50,256.98 L1075.50,256.85 L1076.50,256.73 L1077.50,256.60 L1078.50,256.48 L1079.50,256.35 L1080.50,256.23 L1081.50,256.10 L1082.50,255.97 L1083.50,255.85 L1084.50,255.72 L1085.50,255.60 L1086.50,255.69 L1087.50,256.62 L1088.50,257.55 L1089.50,258.20 L1090.50,258.18 L1091.50,258.17 L1092.50,258.16 L1093.50,258.14 L1094.50,258.13 L1095.50,258.12 L1096.50,258.10 L1097.50,258.09 L1098.50,258.08 L1099.50,258.06 L1100.50,258.05 L1101.50,258.04 L1102.50,258.02 L1103.50,258.01 L1104.50,258.00 L1105.50,257.98 L1106.50,257.97 L1107.50,257.96 L1108.50,257.94 L1109.50,257.93 L1110.50,257.92 L1111.50,257.90 L1112.50,257.89 L1113.50,257.87 L1114.50,257.86 L1115.50,257.85 L1116.50,257.83 L1117.50,257.82 L1118.50,257.81 L1119.50,257.78 L1120.50,257.74 L1121.50,257.70 L1122.50,257.65 L1123.50,257.61 L1124.50,257.57 L1125.50,257.53 L1126.50,257.48 L1127.50,257.44 L1128.50,257.40 L1129.50,257.35 L1130.50,257.31 L1131.50,257.27 L1132.50,257.23 L1133.50,257.18 L1134.50,257.14 L1135.50,257.10 L1136.50,257.06 L1137.50,257.01 L1138.50,256.97 L1139.50,256.93 L1140.50,256.88 L1141.50,256.84 L1142.50,256.80 L1143.50,256.76 L1144.50,256.71 L1145.50,256.67 L1146.50,256.63 L1147.50,256.58 L1148.50,256.54 L1149.50,256.50 L1150.50,256.46 L1151.50,256.41 L1152.50,256.66 L1153.50,257.04 L1154.50,257.42 L1155.50,257.80 L1156.50,257.79 L1157.50,257.77 L1158.50,257.76 L1159.50,257.74 L1160.50,257.73 L1161.50,257.72 L1162.50,257.70 L1163.50,257.69 L1164.50,257.67 L1165.50,257.66 L1166.50,257.64 L1167.50,257.63 L1168.50,257.62 L1169.50,257.60 L1170.50,257.59 L1171.50,257.57 L1172.50,257.56 L1173.50,257.55 L1174.50,257.53 L1175.50,257.52 L1176.50,257.50 L1177.50,257.49 L1178.50,257.47 L1179.50,257.46 L1180.50,257.45 L1181.50,257.43 L1182.50,257.42 L1183.50,257.40 L1184.50,257.39 L1185.50,257.38 L1186.50,257.36 L1187.50,257.35 L1188.50,257.33 L1189.50,257.32 L1190.50,257.31 L1191.50,257.29 L1192.50,257.28 L1193.50,257.26 L1194.50,257.25 L1195.50,257.23 L1196.50,257.22 L1197.50,257.21 L1198.50,257.19 L1199.50,257.18 L1200.50,257.16 L1201.50,257.15 L1202.50,257.14 L1203.50,257.12 L1204.50,257.11 L1205.50,257.09 L1206.50,257.07 L1207.50,257.05 L1208.50,257.04 L1209.50,257.02 L1210.50,257.00 L1211.50,256.98 L1212.50,256.96 L1213.50,256.94 L1214.50,256.93 L1215.50,256.91 L1216.50,256.89 L1217.50,256.87 L1218.50,256.85 L1219.50,256.83 L1220.50,256.82 L1221.50,256.80 L1222.50,256.78 L1223.50,256.76 L1224.50,256.74 L1225.50,256.72 L1226.50,256.71 L1227.50,256.78 L1228.50,256.90 L1229.50,257.01 L1230.50,257.13 L1231.50,257.25 L1232.50,257.36 L1233.50,257.48 L1234.50,257.60 L1235.50,257.71 L1236.50,257.83 L1237.50,257.95 L1238.50,258.06 L1239.50,258.18 L1240.50,258.29 L1241.50,258.41 L1242.50,258.53 L1243.50,258.64 L1244.50,258.76 L1245.50,258.88 L1246.50,258.88 L1247.50,258.86 L1248.50,258.84 L1249.50,258.82 L1250.50,258.79 L1251.50,258.77 L1252.50,258.75 L1253.50,258.73 L1254.50,258.71 L1255.50,258.69 L1256.50,258.66 L1257.50,258.64 L1258.50,258.62 L1259.50,258.60 L1260.50,258.58 L1261.50,258.55 L1262.50,258.53 L1263.50,258.51 L1264.50,258.49 L1265.50,258.47 L1266.50,258.44 L1267.50,258.42 L1268.50,258.40 L1269.50,258.38 L1270.50,258.36 L1271.50,258.34 L1272.50,258.31 L1273.50,258.29 L1274.50,258.27 L1275.50,258.25 L1276.50,258.23 L1277.50,258.20 L1278.50,258.18 L1279.50,258.15 L1280.50,258.12 L1281.50,258.10 L1282.50,258.07 L1283.50,258.04 L1284.50,258.01 L1285.50,257.99 L1286.50,257.96 L1287.50,257.93 L1288.50,257.90 L1289.50,257.88 L1290.50,257.85 L1291.50,257.82 L1292.50,257.79 L1293.50,257.77 L1294.50,257.74 L1295.50,257.71 L1296.50,257.68 L1297.50,257.66 L1298.50,257.63 L1299.50,257.60 L1300.50,257.57 L1301.50,257.55 L1302.50,257.52 L1303.50,257.94 L1304.50,259.39 L1305.50,260.70 L1306.50,260.68 L1307.50,260.66 L1308.50,260.64 L1309.50,260.62 L1310.50,260.60 L1311.50,260.57 L1312.50,260.55 L1313.50,260.53 L1314.50,260.51 L1315.50,260.49 L1316.50,260.47 L1317.50,260.45 L1318.50,260.43 L1319.50,260.41 L1320.50,260.42 L1321.50,260.45 L1322.50,260.49 L1323.50,260.52 L1324.50,260.56 L1325.50,260.60 L1326.50,260.63 L1327.50,260.67 L1328.50,260.70 L1329.50,260.74 L1330.50,260.77 L1331.50,260.81 L1332.50,260.85 L1333.50,260.88 L1334.50,260.92 L1335.50,260.95 L1336.50,260.99 L1337.50,261.03 L1338.50,261.06 L1339.50,261.10 L1340.50,261.00 L1341.50,260.89 L1342.50,260.79 L1343.50,260.68 L1344.50,260.57 L1345.50,260.46 L1346.50,260.35 L1347.50,260.24 L1348.50,260.14 L1349.50,260.03 L1350.50,259.92 L1351.50,259.81 L1352.50,259.70 L1353.50,259.59 L1354.50,259.49 L1355.50,259.38 L1356.50,259.27 L1357.50,259.16 L1358.50,259.05 L1359.50,258.94 L1360.50,258.84 L1361.50,258.73 L1362.50,258.62 L1363.50,258.51 L1364.50,258.49 L1365.50,258.48 L1366.50,258.48 L1367.50,258.47 L1368.50,258.46 L1369.50,258.45 L1370.50,258.44 L1371.50,258.43 L1372.50,258.43 L1373.50,258.42 L1374.50,258.41 L1375.50,258.40 L1376.50,258.39 L1377.50,258.39 L1378.50,258.38 L1379.50,258.37 L1380.50,258.36 L1381.50,258.35 L1382.50,258.34 L1383.50,258.34 L1384.50,258.33 L1385.50,258.32 L1386.50,258.31 L1387.50,258.30 L1388.50,258.29 L1389.50,258.29 L1390.50,258.28 L1391.50,258.27 L1392.50,258.26 L1393.50,258.25 L1394.50,258.25 L1395.50,258.24 L1396.50,258.23 L1397.50,258.22 L1398.50,258.21 L1399.50,258.20 L1400.50,258.25 L1401.50,258.34 L1402.50,258.44 L1403.50,258.54 L1404.50,258.63 L1405.50,258.73 L1406.50,258.82 L1407.50,258.89 L1408.50,258.86 L1409.50,258.83 L1410.50,258.80 L1411.50,258.77 L1412.50,258.74 L1413.50,258.70 L1414.50,258.67 L1415.50,258.64 L1416.50,258.61 L1417.50,258.58 L1418.50,258.55 L1419.50,258.52 L1420.50,258.48 L1421.50,258.44 L1422.50,258.40 L1423.50,258.37 L1424.50,258.33 L1425.50,258.29 L1426.50,258.25 L1427.50,258.21 L1428.50,258.17 L1429.50,258.13 L1430.50,258.10 L1431.50,258.06 L1432.50,258.02 L1433.50,257.98 L1434.50,257.94 L1435.50,257.90 L1436.50,257.87 L1437.50,257.83 L1438.50,257.95 L1439.50,258.45 L1440.50,258.95 L1441.50,259.45 L1442.50,259.57 L1443.50,259.54 L1444.50,259.50 L1445.50,259.46 L1446.50,259.42 L1447.50,259.38 L1448.50,259.35 L1449.50,259.31 L1450.50,259.27 L1451.50,259.23 L1452.50,259.20 L1453.50,259.16 L1454.50,259.12 L1455.50,259.08 L1456.50,259.04 L1457.50,259.01 L1458.50,258.97 L1459.50,258.93 L1460.50,258.89 L1461.50,258.86 L1462.50,258.82 L1463.50,258.78 L1464.50,258.74 L1465.50,258.70 L1466.50,258.67 L1467.50,258.63 L1468.50,258.59 L1469.50,258.55 L1470.50,258.52 L1471.50,258.53 L1472.50,258.57 L1473.50,258.61 L1474.50,258.65 L1475.50,258.70 L1476.50,258.74 L1477.50,258.78 L1478.50,258.83 L1479.50,258.87 L1480.50,258.91 L1481.50,258.96 L1482.50,259.00 L1483.50,259.04 L1484.50,259.08 L1485.50,259.13 L1486.50,259.17 L1487.50,259.21 L1488.50,259.26 L1489.50,259.30 L1490.50,259.34 L1491.50,259.39 L1492.50,259.43 L1493.50,259.47 L1494.50,259.51 L1495.50,259.56 L1496.50,259.60 L1497.50,259.64 L1498.50,259.69 L1499.50,259.73 L1500.50,259.77 L1501.50,259.82 L1502.50,259.86 L1503.50,259.90 L1504.50,259.94 L1505.50,259.99" fill="none" stroke="#000" stroke-width="5.4" stroke-linejoin="round" stroke-linecap="round" stroke-dasharray="0 3.6"/>
<path d="M983.40,282.40 L984.40,278.52 L985.40,274.64 L986.40,272.35 L987.40,271.64 L988.40,270.94 L989.40,270.23 L990.40,269.52 L991.40,269.05 L992.40,268.91 L993.40,268.77 L994.40,268.63 L995.40,268.50 L996.40,268.36 L997.40,268.22 L998.40,268.08 L999.40,267.95 L1000.40,267.81 L1001.40,267.67 L1002.40,267.53 L1003.40,267.40 L1004.40,267.32 L1005.40,267.38 L1006.40,267.45 L1007.40,267.51 L1008.40,267.58 L1009.40,267.64 L1010.40,267.70 L1011.40,267.77 L1012.40,267.83 L1013.40,267.90 L1014.40,267.96 L1015.40,268.03 L1016.40,268.09 L1017.40,268.15 L1018.40,268.22 L1019.40,268.28 L1020.40,268.35 L1021.40,268.41 L1022.40,268.48 L1023.40,268.54 L1024.40,268.60 L1025.40,268.67 L1026.40,268.65 L1027.40,268.54 L1028.40,268.43 L1029.40,268.32 L1030.40,268.21 L1031.40,268.11 L1032.40,268.00 L1033.40,267.89 L1034.40,267.78 L1035.40,267.68 L1036.40,267.57 L1037.40,267.46 L1038.40,267.35 L1039.40,267.24 L1040.40,267.14 L1041.40,267.03 L1042.40,266.92 L1043.40,266.81 L1044.40,266.71 L1045.40,266.60 L1046.40,266.49 L1047.40,266.38 L1048.40,266.27 L1049.40,266.17 L1050.40,266.06 L1051.40,265.95 L1052.40,265.84 L1053.40,265.92 L1054.40,266.12 L1055.40,266.31 L1056.40,266.51 L1057.40,266.71 L1058.40,266.91 L1059.40,267.10 L1060.40,267.30 L1061.40,267.50 L1062.40,267.70 L1063.40,267.89 L1064.40,268.09 L1065.40,268.29 L1066.40,268.49 L1067.40,268.69 L1068.40,268.88 L1069.40,269.08 L1070.40,268.94 L1071.40,268.77 L1072.40,268.60 L1073.40,268.43 L1074.40,268.25 L1075.40,268.08 L1076.40,267.91 L1077.40,267.74 L1078.40,267.56 L1079.40,267.39 L1080.40,267.22 L1081.40,267.05 L1082.40,266.87 L1083.40,266.70 L1084.40,266.53 L1085.40,266.36 L1086.40,266.29 L1087.40,267.21 L1088.40,268.13 L1089.40,269.04 L1090.40,269.47 L1091.40,269.42 L1092.40,269.37 L1093.40,269.32 L1094.40,269.27 L1095.40,269.22 L1096.40,269.17 L1097.40,269.11 L1098.40,269.06 L1099.40,269.01 L1100.40,268.96 L1101.40,268.91 L1102.40,268.86 L1103.40,268.81 L1104.40,268.76 L1105.40,268.70 L1106.40,268.65 L1107.40,268.60 L1108.40,268.55 L1109.40,268.50 L1110.40,268.45 L1111.40,268.40 L1112.40,268.34 L1113.40,268.29 L1114.40,268.24 L1115.40,268.19 L1116.40,268.14 L1117.40,268.09 L1118.40,268.04 L1119.40,267.99 L1120.40,267.94 L1121.40,267.89 L1122.40,267.85 L1123.40,267.80 L1124.40,267.76 L1125.40,267.71 L1126.40,267.67 L1127.40,267.62 L1128.40,267.57 L1129.40,267.53 L1130.40,267.48 L1131.40,267.44 L1132.40,267.39 L1133.40,267.34 L1134.40,267.30 L1135.40,267.25 L1136.40,267.21 L1137.40,267.16 L1138.40,267.11 L1139.40,267.07 L1140.40,267.02 L1141.40,266.98 L1142.40,266.93 L1143.40,266.89 L1144.40,266.84 L1145.40,266.79 L1146.40,266.75 L1147.40,266.70 L1148.40,266.66 L1149.40,266.61 L1150.40,266.56 L1151.40,266.52 L1152.40,266.81 L1153.40,267.32 L1154.40,267.84 L1155.40,268.35 L1156.40,268.38 L1157.40,268.36 L1158.40,268.34 L1159.40,268.31 L1160.40,268.29 L1161.40,268.27 L1162.40,268.25 L1163.40,268.22 L1164.40,268.20 L1165.40,268.18 L1166.40,268.16 L1167.40,268.14 L1168.40,268.11 L1169.40,268.09 L1170.40,268.07 L1171.40,268.05 L1172.40,268.02 L1173.40,268.00 L1174.40,267.98 L1175.40,267.96 L1176.40,267.94 L1177.40,267.91 L1178.40,267.89 L1179.40,267.87 L1180.40,267.85 L1181.40,267.82 L1182.40,267.80 L1183.40,267.78 L1184.40,267.76 L1185.40,267.74 L1186.40,267.71 L1187.40,267.69 L1188.40,267.67 L1189.40,267.65 L1190.40,267.62 L1191.40,267.60 L1192.40,267.58 L1193.40,267.56 L1194.40,267.54 L1195.40,267.51 L1196.40,267.49 L1197.40,267.47 L1198.40,267.45 L1199.40,267.42 L1200.40,267.40 L1201.40,267.38 L1202.40,267.36 L1203.40,267.34 L1204.40,267.31 L1205.40,267.29 L1206.40,267.27 L1207.40,267.26 L1208.40,267.24 L1209.40,267.22 L1210.40,267.20 L1211.40,267.18 L1212.40,267.16 L1213.40,267.15 L1214.40,267.13 L1215.40,267.11 L1216.40,267.09 L1217.40,267.07 L1218.40,267.05 L1219.40,267.04 L1220.40,267.02 L1221.40,267.00 L1222.40,266.98 L1223.40,266.96 L1224.40,266.94 L1225.40,266.93 L1226.40,266.91 L1227.40,266.96 L1228.40,267.05 L1229.40,267.15 L1230.40,267.24 L1231.40,267.34 L1232.40,267.43 L1233.40,267.53 L1234.40,267.62 L1235.40,267.72 L1236.40,267.81 L1237.40,267.91 L1238.40,268.00 L1239.40,268.10 L1240.40,268.20 L1241.40,268.29 L1242.40,268.39 L1243.40,268.48 L1244.40,268.58 L1245.40,268.67 L1246.40,268.68 L1247.40,268.66 L1248.40,268.64 L1249.40,268.62 L1250.40,268.60 L1251.40,268.58 L1252.40,268.55 L1253.40,268.53 L1254.40,268.51 L1255.40,268.49 L1256.40,268.47 L1257.40,268.44 L1258.40,268.42 L1259.40,268.40 L1260.40,268.38 L1261.40,268.36 L1262.40,268.33 L1263.40,268.31 L1264.40,268.29 L1265.40,268.27 L1266.40,268.25 L1267.40,268.23 L1268.40,268.20 L1269.40,268.18 L1270.40,268.16 L1271.40,268.14 L1272.40,268.12 L1273.40,268.09 L1274.40,268.07 L1275.40,268.05 L1276.40,268.03 L1277.40,268.01 L1278.40,267.98 L1279.40,267.95 L1280.40,267.93 L1281.40,267.90 L1282.40,267.87 L1283.40,267.84 L1284.40,267.82 L1285.40,267.79 L1286.40,267.76 L1287.40,267.73 L1288.40,267.71 L1289.40,267.68 L1290.40,267.65 L1291.40,267.62 L1292.40,267.60 L1293.40,267.57 L1294.40,267.54 L1295.40,267.51 L1296.40,267.49 L1297.40,267.46 L1298.40,267.43 L1299.40,267.40 L1300.40,267.38 L1301.40,267.35 L1302.40,267.32 L1303.40,267.56 L1304.40,268.88 L1305.40,270.20 L1306.40,270.17 L1307.40,270.15 L1308.40,270.12 L1309.40,270.09 L1310.40,270.06 L1311.40,270.04 L1312.40,270.01 L1313.40,269.98 L1314.40,269.95 L1315.40,269.93 L1316.40,269.90 L1317.40,269.87 L1318.40,269.84 L1319.40,269.82 L1320.40,269.82 L1321.40,269.88 L1322.40,269.93 L1323.40,269.99 L1324.40,270.05 L1325.40,270.10 L1326.40,270.16 L1327.40,270.22 L1328.40,270.27 L1329.40,270.33 L1330.40,270.38 L1331.40,270.44 L1332.40,270.50 L1333.40,270.55 L1334.40,270.61 L1335.40,270.66 L1336.40,270.72 L1337.40,270.78 L1338.40,270.83 L1339.40,270.89 L1340.40,270.82 L1341.40,270.71 L1342.40,270.61 L1343.40,270.50 L1344.40,270.40 L1345.40,270.30 L1346.40,270.19 L1347.40,270.09 L1348.40,269.98 L1349.40,269.88 L1350.40,269.77 L1351.40,269.67 L1352.40,269.57 L1353.40,269.46 L1354.40,269.36 L1355.40,269.25 L1356.40,269.15 L1357.40,269.05 L1358.40,268.94 L1359.40,268.84 L1360.40,268.73 L1361.40,268.63 L1362.40,268.52 L1363.40,268.42 L1364.40,268.39 L1365.40,268.38 L1366.40,268.37 L1367.40,268.36 L1368.40,268.35 L1369.40,268.34 L1370.40,268.33 L1371.40,268.31 L1372.40,268.30 L1373.40,268.29 L1374.40,268.28 L1375.40,268.27 L1376.40,268.26 L1377.40,268.25 L1378.40,268.24 L1379.40,268.23 L1380.40,268.22 L1381.40,268.20 L1382.40,268.19 L1383.40,268.18 L1384.40,268.17 L1385.40,268.16 L1386.40,268.15 L1387.40,268.14 L1388.40,268.13 L1389.40,268.12 L1390.40,268.11 L1391.40,268.09 L1392.40,268.08 L1393.40,268.07 L1394.40,268.06 L1395.40,268.05 L1396.40,268.04 L1397.40,268.03 L1398.40,268.02 L1399.40,268.01 L1400.40,268.04 L1401.40,268.13 L1402.40,268.23 L1403.40,268.33 L1404.40,268.42 L1405.40,268.52 L1406.40,268.61 L1407.40,268.69 L1408.40,268.64 L1409.40,268.58 L1410.40,268.53 L1411.40,268.47 L1412.40,268.42 L1413.40,268.36 L1414.40,268.31 L1415.40,268.25 L1416.40,268.20 L1417.40,268.14 L1418.40,268.09 L1419.40,268.03 L1420.40,267.98 L1421.40,267.95 L1422.40,267.91 L1423.40,267.87 L1424.40,267.83 L1425.40,267.79 L1426.40,267.75 L1427.40,267.72 L1428.40,267.68 L1429.40,267.64 L1430.40,267.60 L1431.40,267.56 L1432.40,267.52 L1433.40,267.48 L1434.40,267.45 L1435.40,267.41 L1436.40,267.37 L1437.40,267.33 L1438.40,267.40 L1439.40,267.90 L1440.40,268.40 L1441.40,268.90 L1442.40,269.08 L1443.40,269.04 L1444.40,269.00 L1445.40,268.96 L1446.40,268.93 L1447.40,268.89 L1448.40,268.85 L1449.40,268.81 L1450.40,268.77 L1451.40,268.74 L1452.40,268.70 L1453.40,268.66 L1454.40,268.62 L1455.40,268.59 L1456.40,268.55 L1457.40,268.51 L1458.40,268.47 L1459.40,268.43 L1460.40,268.40 L1461.40,268.36 L1462.40,268.32 L1463.40,268.28 L1464.40,268.25 L1465.40,268.21 L1466.40,268.17 L1467.40,268.13 L1468.40,268.09 L1469.40,268.06 L1470.40,268.02 L1471.40,268.02 L1472.40,268.05 L1473.40,268.08 L1474.40,268.11 L1475.40,268.14 L1476.40,268.17 L1477.40,268.20 L1478.40,268.24 L1479.40,268.27 L1480.40,268.30 L1481.40,268.33 L1482.40,268.36 L1483.40,268.39 L1484.40,268.43 L1485.40,268.46 L1486.40,268.49 L1487.40,268.52 L1488.40,268.55 L1489.40,268.58 L1490.40,268.61 L1491.40,268.65 L1492.40,268.68 L1493.40,268.71 L1494.40,268.74 L1495.40,268.77 L1496.40,268.80 L1497.40,268.84 L1498.40,268.87 L1499.40,268.90 L1500.40,268.93 L1501.40,268.96 L1502.40,268.99 L1503.40,269.02 L1504.40,269.06 L1505.40,269.09" fill="none" stroke="#ff0000" stroke-width="3.8" stroke-linejoin="round" stroke-linecap="round" />
<path d="M983.40,282.40 L984.40,278.52 L985.40,274.64 L986.40,272.35 L987.40,271.64 L988.40,270.94 L989.40,270.23 L990.40,269.52 L991.40,269.05 L992.40,268.91 L993.40,268.77 L994.40,268.63 L995.40,268.50 L996.40,268.36 L997.40,268.22 L998.40,268.08 L999.40,267.95 L1000.40,267.81 L1001.40,267.67 L1002.40,267.53 L1003.40,267.40 L1004.40,267.32 L1005.40,267.38 L1006.40,267.45 L1007.40,267.51 L1008.40,267.58 L1009.40,267.64 L1010.40,267.70 L1011.40,267.77 L1012.40,267.83 L1013.40,267.90 L1014.40,267.96 L1015.40,268.03 L1016.40,268.09 L1017.40,268.15 L1018.40,268.22 L1019.40,268.28 L1020.40,268.35 L1021.40,268.41 L1022.40,268.48 L1023.40,268.54 L1024.40,268.60 L1025.40,268.67 L1026.40,268.65 L1027.40,268.54 L1028.40,268.43 L1029.40,268.32 L1030.40,268.21 L1031.40,268.11 L1032.40,268.00 L1033.40,267.89 L1034.40,267.78 L1035.40,267.68 L1036.40,267.57 L1037.40,267.46 L1038.40,267.35 L1039.40,267.24 L1040.40,267.14 L1041.40,267.03 L1042.40,266.92 L1043.40,266.81 L1044.40,266.71 L1045.40,266.60 L1046.40,266.49 L1047.40,266.38 L1048.40,266.27 L1049.40,266.17 L1050.40,266.06 L1051.40,265.95 L1052.40,265.84 L1053.40,265.92 L1054.40,266.12 L1055.40,266.31 L1056.40,266.51 L1057.40,266.71 L1058.40,266.91 L1059.40,267.10 L1060.40,267.30 L1061.40,267.50 L1062.40,267.70 L1063.40,267.89 L1064.40,268.09 L1065.40,268.29 L1066.40,268.49 L1067.40,268.69 L1068.40,268.88 L1069.40,269.08 L1070.40,268.94 L1071.40,268.77 L1072.40,268.60 L1073.40,268.43 L1074.40,268.25 L1075.40,268.08 L1076.40,267.91 L1077.40,267.74 L1078.40,267.56 L1079.40,267.39 L1080.40,267.22 L1081.40,267.05 L1082.40,266.87 L1083.40,266.70 L1084.40,266.53 L1085.40,266.36 L1086.40,266.29 L1087.40,267.21 L1088.40,268.13 L1089.40,269.04 L1090.40,269.47 L1091.40,269.42 L1092.40,269.37 L1093.40,269.32 L1094.40,269.27 L1095.40,269.22 L1096.40,269.17 L1097.40,269.11 L1098.40,269.06 L1099.40,269.01 L1100.40,268.96 L1101.40,268.91 L1102.40,268.86 L1103.40,268.81 L1104.40,268.76 L1105.40,268.70 L1106.40,268.65 L1107.40,268.60 L1108.40,268.55 L1109.40,268.50 L1110.40,268.45 L1111.40,268.40 L1112.40,268.34 L1113.40,268.29 L1114.40,268.24 L1115.40,268.19 L1116.40,268.14 L1117.40,268.09 L1118.40,268.04 L1119.40,267.99 L1120.40,267.94 L1121.40,267.89 L1122.40,267.85 L1123.40,267.80 L1124.40,267.76 L1125.40,267.71 L1126.40,267.67 L1127.40,267.62 L1128.40,267.57 L1129.40,267.53 L1130.40,267.48 L1131.40,267.44 L1132.40,267.39 L1133.40,267.34 L1134.40,267.30 L1135.40,267.25 L1136.40,267.21 L1137.40,267.16 L1138.40,267.11 L1139.40,267.07 L1140.40,267.02 L1141.40,266.98 L1142.40,266.93 L1143.40,266.89 L1144.40,266.84 L1145.40,266.79 L1146.40,266.75 L1147.40,266.70 L1148.40,266.66 L1149.40,266.61 L1150.40,266.56 L1151.40,266.52 L1152.40,266.81 L1153.40,267.32 L1154.40,267.84 L1155.40,268.35 L1156.40,268.38 L1157.40,268.36 L1158.40,268.34 L1159.40,268.31 L1160.40,268.29 L1161.40,268.27 L1162.40,268.25 L1163.40,268.22 L1164.40,268.20 L1165.40,268.18 L1166.40,268.16 L1167.40,268.14 L1168.40,268.11 L1169.40,268.09 L1170.40,268.07 L1171.40,268.05 L1172.40,268.02 L1173.40,268.00 L1174.40,267.98 L1175.40,267.96 L1176.40,267.94 L1177.40,267.91 L1178.40,267.89 L1179.40,267.87 L1180.40,267.85 L1181.40,267.82 L1182.40,267.80 L1183.40,267.78 L1184.40,267.76 L1185.40,267.74 L1186.40,267.71 L1187.40,267.69 L1188.40,267.67 L1189.40,267.65 L1190.40,267.62 L1191.40,267.60 L1192.40,267.58 L1193.40,267.56 L1194.40,267.54 L1195.40,267.51 L1196.40,267.49 L1197.40,267.47 L1198.40,267.45 L1199.40,267.42 L1200.40,267.40 L1201.40,267.38 L1202.40,267.36 L1203.40,267.34 L1204.40,267.31 L1205.40,267.29 L1206.40,267.27 L1207.40,267.26 L1208.40,267.24 L1209.40,267.22 L1210.40,267.20 L1211.40,267.18 L1212.40,267.16 L1213.40,267.15 L1214.40,267.13 L1215.40,267.11 L1216.40,267.09 L1217.40,267.07 L1218.40,267.05 L1219.40,267.04 L1220.40,267.02 L1221.40,267.00 L1222.40,266.98 L1223.40,266.96 L1224.40,266.94 L1225.40,266.93 L1226.40,266.91 L1227.40,266.96 L1228.40,267.05 L1229.40,267.15 L1230.40,267.24 L1231.40,267.34 L1232.40,267.43 L1233.40,267.53 L1234.40,267.62 L1235.40,267.72 L1236.40,267.81 L1237.40,267.91 L1238.40,268.00 L1239.40,268.10 L1240.40,268.20 L1241.40,268.29 L1242.40,268.39 L1243.40,268.48 L1244.40,268.58 L1245.40,268.67 L1246.40,268.68 L1247.40,268.66 L1248.40,268.64 L1249.40,268.62 L1250.40,268.60 L1251.40,268.58 L1252.40,268.55 L1253.40,268.53 L1254.40,268.51 L1255.40,268.49 L1256.40,268.47 L1257.40,268.44 L1258.40,268.42 L1259.40,268.40 L1260.40,268.38 L1261.40,268.36 L1262.40,268.33 L1263.40,268.31 L1264.40,268.29 L1265.40,268.27 L1266.40,268.25 L1267.40,268.23 L1268.40,268.20 L1269.40,268.18 L1270.40,268.16 L1271.40,268.14 L1272.40,268.12 L1273.40,268.09 L1274.40,268.07 L1275.40,268.05 L1276.40,268.03 L1277.40,268.01 L1278.40,267.98 L1279.40,267.95 L1280.40,267.93 L1281.40,267.90 L1282.40,267.87 L1283.40,267.84 L1284.40,267.82 L1285.40,267.79 L1286.40,267.76 L1287.40,267.73 L1288.40,267.71 L1289.40,267.68 L1290.40,267.65 L1291.40,267.62 L1292.40,267.60 L1293.40,267.57 L1294.40,267.54 L1295.40,267.51 L1296.40,267.49 L1297.40,267.46 L1298.40,267.43 L1299.40,267.40 L1300.40,267.38 L1301.40,267.35 L1302.40,267.32 L1303.40,267.56 L1304.40,268.88 L1305.40,270.20 L1306.40,270.17 L1307.40,270.15 L1308.40,270.12 L1309.40,270.09 L1310.40,270.06 L1311.40,270.04 L1312.40,270.01 L1313.40,269.98 L1314.40,269.95 L1315.40,269.93 L1316.40,269.90 L1317.40,269.87 L1318.40,269.84 L1319.40,269.82 L1320.40,269.82 L1321.40,269.88 L1322.40,269.93 L1323.40,269.99 L1324.40,270.05 L1325.40,270.10 L1326.40,270.16 L1327.40,270.22 L1328.40,270.27 L1329.40,270.33 L1330.40,270.38 L1331.40,270.44 L1332.40,270.50 L1333.40,270.55 L1334.40,270.61 L1335.40,270.66 L1336.40,270.72 L1337.40,270.78 L1338.40,270.83 L1339.40,270.89 L1340.40,270.82 L1341.40,270.71 L1342.40,270.61 L1343.40,270.50 L1344.40,270.40 L1345.40,270.30 L1346.40,270.19 L1347.40,270.09 L1348.40,269.98 L1349.40,269.88 L1350.40,269.77 L1351.40,269.67 L1352.40,269.57 L1353.40,269.46 L1354.40,269.36 L1355.40,269.25 L1356.40,269.15 L1357.40,269.05 L1358.40,268.94 L1359.40,268.84 L1360.40,268.73 L1361.40,268.63 L1362.40,268.52 L1363.40,268.42 L1364.40,268.39 L1365.40,268.38 L1366.40,268.37 L1367.40,268.36 L1368.40,268.35 L1369.40,268.34 L1370.40,268.33 L1371.40,268.31 L1372.40,268.30 L1373.40,268.29 L1374.40,268.28 L1375.40,268.27 L1376.40,268.26 L1377.40,268.25 L1378.40,268.24 L1379.40,268.23 L1380.40,268.22 L1381.40,268.20 L1382.40,268.19 L1383.40,268.18 L1384.40,268.17 L1385.40,268.16 L1386.40,268.15 L1387.40,268.14 L1388.40,268.13 L1389.40,268.12 L1390.40,268.11 L1391.40,268.09 L1392.40,268.08 L1393.40,268.07 L1394.40,268.06 L1395.40,268.05 L1396.40,268.04 L1397.40,268.03 L1398.40,268.02 L1399.40,268.01 L1400.40,268.04 L1401.40,268.13 L1402.40,268.23 L1403.40,268.33 L1404.40,268.42 L1405.40,268.52 L1406.40,268.61 L1407.40,268.69 L1408.40,268.64 L1409.40,268.58 L1410.40,268.53 L1411.40,268.47 L1412.40,268.42 L1413.40,268.36 L1414.40,268.31 L1415.40,268.25 L1416.40,268.20 L1417.40,268.14 L1418.40,268.09 L1419.40,268.03 L1420.40,267.98 L1421.40,267.95 L1422.40,267.91 L1423.40,267.87 L1424.40,267.83 L1425.40,267.79 L1426.40,267.75 L1427.40,267.72 L1428.40,267.68 L1429.40,267.64 L1430.40,267.60 L1431.40,267.56 L1432.40,267.52 L1433.40,267.48 L1434.40,267.45 L1435.40,267.41 L1436.40,267.37 L1437.40,267.33 L1438.40,267.40 L1439.40,267.90 L1440.40,268.40 L1441.40,268.90 L1442.40,269.08 L1443.40,269.04 L1444.40,269.00 L1445.40,268.96 L1446.40,268.93 L1447.40,268.89 L1448.40,268.85 L1449.40,268.81 L1450.40,268.77 L1451.40,268.74 L1452.40,268.70 L1453.40,268.66 L1454.40,268.62 L1455.40,268.59 L1456.40,268.55 L1457.40,268.51 L1458.40,268.47 L1459.40,268.43 L1460.40,268.40 L1461.40,268.36 L1462.40,268.32 L1463.40,268.28 L1464.40,268.25 L1465.40,268.21 L1466.40,268.17 L1467.40,268.13 L1468.40,268.09 L1469.40,268.06 L1470.40,268.02 L1471.40,268.02 L1472.40,268.05 L1473.40,268.08 L1474.40,268.11 L1475.40,268.14 L1476.40,268.17 L1477.40,268.20 L1478.40,268.24 L1479.40,268.27 L1480.40,268.30 L1481.40,268.33 L1482.40,268.36 L1483.40,268.39 L1484.40,268.43 L1485.40,268.46 L1486.40,268.49 L1487.40,268.52 L1488.40,268.55 L1489.40,268.58 L1490.40,268.61 L1491.40,268.65 L1492.40,268.68 L1493.40,268.71 L1494.40,268.74 L1495.40,268.77 L1496.40,268.80 L1497.40,268.84 L1498.40,268.87 L1499.40,268.90 L1500.40,268.93 L1501.40,268.96 L1502.40,268.99 L1503.40,269.02 L1504.40,269.06 L1505.40,269.09" fill="none" stroke="#ff0000" stroke-width="5.4" stroke-linejoin="round" stroke-linecap="round" stroke-dasharray="0 3.6"/>
<path d="M989.60,595.04 L990.40,586.33 L991.20,595.98 L992.00,586.99 L992.80,595.18 L993.60,587.73 L994.40,596.17 L995.20,587.58 L996.00,595.11 L996.80,588.07 L997.60,596.37 L998.40,588.61 L999.20,595.93 L1000.00,589.16 L1000.80,596.35 L1001.60,588.17 L1002.40,597.01 L1003.20,589.01 L1004.00,596.41 L1004.80,588.34 L1005.60,596.44 L1006.40,588.79 L1007.20,597.02 L1008.00,589.05 L1008.80,596.70 L1009.60,588.10 L1010.40,597.06 L1011.20,589.53 L1012.00,597.10 L1012.80,588.60 L1013.60,596.72 L1014.40,589.24 L1015.20,596.88 L1016.00,588.23 L1016.80,596.92 L1017.60,588.20 L1018.40,597.68 L1019.20,588.31 L1020.00,597.20 L1020.80,588.49 L1021.60,597.02 L1022.40,588.30 L1023.20,595.82 L1024.00,588.32 L1024.80,597.00 L1025.60,588.28 L1026.40,596.22 L1027.20,588.62 L1028.00,597.20 L1028.80,588.49 L1029.60,596.22 L1030.40,588.65 L1031.20,596.83 L1032.00,589.43 L1032.80,596.17 L1033.60,588.56 L1034.40,597.05 L1035.20,588.35 L1036.00,597.23 L1036.80,588.51 L1037.60,597.08 L1038.40,589.08 L1039.20,596.01 L1040.00,588.41 L1040.80,596.10 L1041.60,588.45 L1042.40,597.48 L1043.20,588.43 L1044.00,596.75 L1044.80,588.46 L1045.60,597.37 L1046.40,588.66 L1047.20,596.16 L1048.00,588.53 L1048.80,596.90 L1049.60,589.21 L1050.40,596.51 L1051.20,588.57 L1052.00,597.06 L1052.80,588.82 L1053.60,597.03 L1054.40,588.61 L1055.20,597.84 L1056.00,588.89 L1056.80,597.15 L1057.60,589.01 L1058.40,597.55 L1059.20,588.91 L1060.00,596.85 L1060.80,588.79 L1061.60,596.09 L1062.40,589.22 L1063.20,597.58 L1064.00,589.33 L1064.80,597.41 L1065.60,589.01 L1066.40,597.01 L1067.20,589.43 L1068.00,597.42 L1068.80,588.83 L1069.60,597.18 L1070.40,588.69 L1071.20,597.34 L1072.00,589.73 L1072.80,596.54 L1073.60,589.05 L1074.40,597.24 L1075.20,589.34 L1076.00,597.48 L1076.80,588.80 L1077.60,597.02 L1078.40,588.67 L1079.20,596.42 L1080.00,588.68 L1080.80,597.68 L1081.60,590.05 L1082.40,597.00 L1083.20,590.02 L1084.00,597.10 L1084.80,589.48 L1085.60,596.97 L1086.40,589.43 L1087.20,596.79 L1088.00,588.08 L1088.80,596.77 L1089.60,589.43 L1090.40,596.66 L1091.20,589.25 L1092.00,597.61 L1092.80,588.92 L1093.60,597.10 L1094.40,588.77 L1095.20,597.77 L1096.00,589.83 L1096.80,596.43 L1097.60,588.79 L1098.40,597.23 L1099.20,590.33 L1100.00,597.53 L1100.80,589.47 L1101.60,598.48 L1102.40,588.83 L1103.20,597.82 L1104.00,588.86 L1104.80,598.53 L1105.60,589.70 L1106.40,597.02 L1107.20,588.89 L1108.00,597.08 L1108.80,589.76 L1109.60,597.28 L1110.40,589.27 L1111.20,597.83 L1112.00,589.07 L1112.80,597.96 L1113.60,590.03 L1114.40,597.82 L1115.20,589.03 L1116.00,598.32 L1116.80,589.22 L1117.60,597.71 L1118.40,589.06 L1119.20,597.82 L1120.00,589.68 L1120.80,597.81 L1121.60,590.49 L1122.40,597.56 L1123.20,589.09 L1124.00,597.30 L1124.80,589.28 L1125.60,596.58 L1126.40,589.70 L1127.20,597.84 L1128.00,589.37 L1128.80,597.57 L1129.60,590.20 L1130.40,598.17 L1131.20,589.46 L1132.00,597.12 L1132.80,589.20 L1133.60,597.15 L1134.40,589.74 L1135.20,597.07 L1136.00,589.99 L1136.80,598.05 L1137.60,589.75 L1138.40,598.20 L1139.20,590.66 L1140.00,597.70 L1140.80,589.64 L1141.60,598.20 L1142.40,590.32 L1143.20,598.31 L1144.00,590.29 L1144.80,597.81 L1145.60,590.61 L1146.40,598.00 L1147.20,589.43 L1148.00,598.33 L1148.80,589.60 L1149.60,598.14 L1150.40,588.75 L1151.20,596.83 L1152.00,589.45 L1152.80,597.45 L1153.60,590.02 L1154.40,598.73 L1155.20,589.47 L1156.00,597.28 L1156.80,590.00 L1157.60,597.53 L1158.40,590.94 L1159.20,597.45 L1160.00,588.93 L1160.80,598.47 L1161.60,588.86 L1162.40,598.06 L1163.20,589.90 L1164.00,597.25 L1164.80,590.16 L1165.60,598.57 L1166.40,589.71 L1167.20,597.96 L1168.00,590.34 L1168.80,598.31 L1169.60,591.14 L1170.40,599.28 L1171.20,589.77 L1172.00,597.37 L1172.80,590.11 L1173.60,597.70 L1174.40,590.37 L1175.20,598.71 L1176.00,590.63 L1176.80,598.00 L1177.60,590.30 L1178.40,598.73 L1179.20,589.87 L1180.00,598.40 L1180.80,589.87 L1181.60,598.76 L1182.40,590.62 L1183.20,598.81 L1184.00,589.90 L1184.80,597.63 L1185.60,589.87 L1186.40,598.83 L1187.20,590.99 L1188.00,598.54 L1188.80,590.96 L1189.60,598.26 L1190.40,589.28 L1191.20,598.09 L1192.00,589.95 L1192.80,598.81 L1193.60,589.98 L1194.40,597.82 L1195.20,590.00 L1196.00,598.80 L1196.80,590.00 L1197.60,598.98 L1198.40,590.71 L1199.20,598.64 L1200.00,590.12 L1200.80,598.81 L1201.60,591.63 L1202.40,599.03 L1203.20,590.64 L1204.00,598.22 L1204.80,590.90 L1205.60,598.04 L1206.40,589.42 L1207.20,597.99 L1208.00,590.17 L1208.80,597.79 L1209.60,590.65 L1210.40,599.09 L1211.20,590.96 L1212.00,599.15 L1212.80,590.76 L1213.60,599.06 L1214.40,590.79 L1215.20,598.14 L1216.00,590.27 L1216.80,598.36 L1217.60,590.36 L1218.40,598.19 L1219.20,591.38 L1220.00,599.57 L1220.80,591.59 L1221.60,598.06 L1222.40,590.34 L1223.20,599.08 L1224.00,590.53 L1224.80,599.32 L1225.60,590.64 L1226.40,599.31 L1227.20,591.41 L1228.00,599.19 L1228.80,590.60 L1229.60,599.37 L1230.40,591.84 L1231.20,598.97 L1232.00,590.16 L1232.80,597.92 L1233.60,590.48 L1234.40,599.33 L1235.20,590.44 L1236.00,598.67 L1236.80,590.46 L1237.60,598.94 L1238.40,591.27 L1239.20,598.28 L1240.00,590.50 L1240.80,599.11 L1241.60,590.63 L1242.40,599.24 L1243.20,591.06 L1244.00,599.47 L1244.80,591.39 L1245.60,598.41 L1246.40,590.74 L1247.20,598.37 L1248.00,590.75 L1248.80,598.53 L1249.60,590.59 L1250.40,599.20 L1251.20,591.54 L1252.00,598.44 L1252.80,590.50 L1253.60,598.03 L1254.40,590.60 L1255.20,598.86 L1256.00,590.95 L1256.80,599.20 L1257.60,590.50 L1258.40,598.00 L1259.20,591.90 L1260.00,598.45 L1260.80,591.05 L1261.60,598.84 L1262.40,591.24 L1263.20,599.03 L1264.00,591.12 L1264.80,599.07 L1265.60,591.95 L1266.40,599.35 L1267.20,590.52 L1268.00,598.04 L1268.80,590.62 L1269.60,599.04 L1270.40,590.52 L1271.20,599.36 L1272.00,590.63 L1272.80,599.49 L1273.60,591.63 L1274.40,598.98 L1275.20,590.56 L1276.00,599.16 L1276.80,591.10 L1277.60,599.35 L1278.40,590.58 L1279.20,599.27 L1280.00,590.50 L1280.80,598.31 L1281.60,591.00 L1282.40,599.37 L1283.20,590.64 L1284.00,599.46 L1284.80,591.71 L1285.60,599.49 L1286.40,590.81 L1287.20,599.48 L1288.00,591.97 L1288.80,599.46 L1289.60,590.70 L1290.40,598.89 L1291.20,591.58 L1292.00,598.63 L1292.80,591.42 L1293.60,598.51 L1294.40,591.84 L1295.20,598.99 L1296.00,591.44 L1296.80,599.10 L1297.60,591.02 L1298.40,598.52 L1299.20,591.09 L1300.00,599.17 L1300.80,591.34 L1301.60,599.26 L1302.40,590.74 L1303.20,598.51 L1304.00,590.90 L1304.80,599.45 L1305.60,590.53 L1306.40,598.96 L1307.20,591.85 L1308.00,598.36 L1308.80,591.97 L1309.60,599.21 L1310.40,589.80 L1311.20,598.99 L1312.00,591.86 L1312.80,599.04 L1313.60,590.93 L1314.40,598.75 L1315.20,590.70 L1316.00,599.30 L1316.80,591.23 L1317.60,599.48 L1318.40,590.76 L1319.20,598.97 L1320.00,591.99 L1320.80,599.19 L1321.60,592.09 L1322.40,599.05 L1323.20,590.55 L1324.00,597.97 L1324.80,590.92 L1325.60,598.22 L1326.40,591.58 L1327.20,598.24 L1328.00,590.54 L1328.80,599.08 L1329.60,590.56 L1330.40,598.86 L1331.20,590.70 L1332.00,599.55 L1332.80,590.77 L1333.60,599.35 L1334.40,590.50 L1335.20,598.37 L1336.00,591.21 L1336.80,599.10 L1337.60,590.61 L1338.40,599.05 L1339.20,591.03 L1340.00,599.48 L1340.80,591.42 L1341.60,599.48 L1342.40,590.94 L1343.20,598.90 L1344.00,589.81 L1344.80,598.55 L1345.60,591.32 L1346.40,599.45 L1347.20,590.52 L1348.00,598.96 L1348.80,590.82 L1349.60,599.50 L1350.40,591.04 L1351.20,599.19 L1352.00,589.90 L1352.80,598.11 L1353.60,590.66 L1354.40,598.43 L1355.20,591.08 L1356.00,599.11 L1356.80,590.59 L1357.60,598.67 L1358.40,590.65 L1359.20,599.12 L1360.00,590.59 L1360.80,599.29 L1361.60,592.01 L1362.40,599.00 L1363.20,590.96 L1364.00,599.24 L1364.80,590.52 L1365.60,599.30 L1366.40,590.56 L1367.20,600.11 L1368.00,591.21 L1368.80,599.46 L1369.60,590.51 L1370.40,598.38 L1371.20,590.81 L1372.00,598.46 L1372.80,590.70 L1373.60,599.27 L1374.40,590.57 L1375.20,599.09 L1376.00,590.83 L1376.80,598.70 L1377.60,591.79 L1378.40,599.28 L1379.20,591.09 L1380.00,598.28 L1380.80,590.92 L1381.60,599.38 L1382.40,590.74 L1383.20,598.98 L1384.00,590.74 L1384.80,599.45 L1385.60,590.66 L1386.40,599.48 L1387.20,590.71 L1388.00,599.36 L1388.80,590.66 L1389.60,599.47 L1390.40,590.63 L1391.20,598.18 L1392.00,591.75 L1392.80,599.47 L1393.60,590.50 L1394.40,598.80 L1395.20,590.77 L1396.00,598.72 L1396.80,591.65 L1397.60,598.87 L1398.40,590.52 L1399.20,598.64 L1400.00,589.80 L1400.80,599.46 L1401.60,590.65 L1402.40,599.50 L1403.20,591.15 L1404.00,598.37 L1404.80,591.32 L1405.60,599.20 L1406.40,589.99 L1407.20,598.39 L1408.00,589.93 L1408.80,598.33 L1409.60,590.50 L1410.40,599.48 L1411.20,590.57 L1412.00,598.60 L1412.80,591.27 L1413.60,598.61 L1414.40,590.63 L1415.20,598.07 L1416.00,591.88 L1416.80,598.63 L1417.60,591.13 L1418.40,599.50 L1419.20,590.79 L1420.00,598.12 L1420.80,590.73 L1421.60,598.71 L1422.40,590.61 L1423.20,598.00 L1424.00,590.97 L1424.80,599.49 L1425.60,590.77 L1426.40,599.35 L1427.20,591.30 L1428.00,599.41 L1428.80,590.92 L1429.60,598.10 L1430.40,590.64 L1431.20,599.47 L1432.00,590.68 L1432.80,599.02 L1433.60,590.55 L1434.40,598.93 L1435.20,591.44 L1436.00,599.48 L1436.80,590.71 L1437.60,599.49 L1438.40,590.56 L1439.20,599.18 L1440.00,590.67 L1440.80,599.29 L1441.60,589.81 L1442.40,597.93 L1443.20,590.51 L1444.00,597.96 L1444.80,590.52 L1445.60,599.20 L1446.40,590.27 L1447.20,598.15 L1448.00,591.13 L1448.80,598.82 L1449.60,590.60 L1450.40,599.50 L1451.20,591.63 L1452.00,599.44 L1452.80,591.64 L1453.60,599.45 L1454.40,591.60 L1455.20,599.33 L1456.00,591.59 L1456.80,599.28 L1457.60,590.72 L1458.40,600.11 L1459.20,591.01 L1460.00,598.42 L1460.80,591.81 L1461.60,599.11 L1462.40,590.54 L1463.20,598.96 L1464.00,591.26 L1464.80,599.19 L1465.60,589.81 L1466.40,599.19 L1467.20,590.64 L1468.00,598.37 L1468.80,591.49 L1469.60,599.37 L1470.40,590.92 L1471.20,599.32 L1472.00,591.21 L1472.80,598.19 L1473.60,590.64 L1474.40,598.99 L1475.20,590.56 L1476.00,599.33 L1476.80,592.01 L1477.60,598.30 L1478.40,591.98 L1479.20,598.45 L1480.00,591.23 L1480.80,599.36 L1481.60,591.95 L1482.40,598.83 L1483.20,590.69 L1484.00,599.50 L1484.80,591.24 L1485.60,599.49 L1486.40,590.72 L1487.20,599.22 L1488.00,591.01 L1488.80,599.48 L1489.60,591.77 L1490.40,599.48 L1491.20,590.60 L1492.00,599.05 L1492.80,590.88 L1493.60,599.42 L1494.40,590.52 L1495.20,598.95 L1496.00,590.77 L1496.80,599.19 L1497.60,590.98 L1498.40,598.58 L1499.20,592.07 L1500.00,599.48 L1500.80,590.75 L1501.60,598.03 L1502.40,591.46 L1503.20,599.24 L1504.00,590.59 L1504.80,599.50 L1505.60,590.57 L1506.40,598.70" fill="none" stroke="#0000ff" stroke-width="2.0" stroke-linejoin="round" stroke-linecap="round" stroke-linejoin="miter"/>
<path d="M984.20,578.60 L984.50,583.20 L985.60,586.80 L987.60,589.60 L990.50,591.40 L993.00,592.20" fill="none" stroke="#0000ff" stroke-width="4.6" stroke-linejoin="round" stroke-linecap="round" />
<path d="M108.3,104.6 L176.2,104.6" stroke="#000" stroke-width="3.4" stroke-linecap="round"/>
<text transform="translate(190.60,114.80) scale(1.0350,1)" font-size="24.3">RED Voltage</text>
<path d="M108.3,143.0 L176.2,143.0" stroke="#ff0000" stroke-width="3.4" stroke-linecap="round"/>
<text transform="translate(190.60,153.30) scale(1.0350,1)" font-size="24.3">Diode Voltage</text>
<path d="M108.3,181.6 L176.2,181.6" stroke="#0000ff" stroke-width="2.4" stroke-linecap="round"/>
<text transform="translate(190.60,191.50) scale(1.0200,1)" font-size="24.3">Current</text>
<path d="M949.2,99.9 L1017.0,99.9" stroke="#000" stroke-width="3.4" stroke-linecap="round"/>
<text transform="translate(1031.80,110.20) scale(1.0350,1)" font-size="24.3">RED Voltage</text>
<path d="M949.2,138.3 L1017.0,138.3" stroke="#ff0000" stroke-width="3.4" stroke-linecap="round"/>
<text transform="translate(1031.80,148.80) scale(1.0350,1)" font-size="24.3">Diode Voltage</text>
<path d="M949.2,176.9 L1017.0,176.9" stroke="#0000ff" stroke-width="2.4" stroke-linecap="round"/>
<text transform="translate(1031.80,186.90) scale(1.0200,1)" font-size="24.3">Current</text>
<path d="M465.8,154.5 L674.1,154.5" stroke="#000" stroke-width="4"/>
<path d="M549.3,131 L588.7,154.5 L549.3,178 Z" fill="#111"/>
<path d="M589,130.7 L589,178.3" stroke="#000" stroke-width="3.9"/>
<text transform="translate(500.25,146.60) scale(1.0400,1)" font-size="41" font-weight="bold">+</text>
<text transform="translate(617.40,143.10) scale(1.4000,1)" font-size="46" font-weight="bold">-</text>
<path d="M1298.1,157 L1518.7,157" stroke="#000" stroke-width="4.2"/>
<path d="M1385.9,132.3 L1428.1,157 L1385.9,182.3 Z" fill="#111"/>
<path d="M1428.1,131.8 L1428.1,182.3" stroke="#000" stroke-width="3.9"/>
<text transform="translate(1457.25,147.30) scale(1.0500,1)" font-size="41" font-weight="bold">+</text>
<text transform="translate(1335.30,141.40) scale(1.4000,1)" font-size="45" font-weight="bold">-</text>
<text transform="translate(411.70,682.00) scale(0.9650,1)" font-size="29.4" text-anchor="middle">Time (s)</text>
<text transform="translate(1242.40,679.20) scale(0.9600,1)" font-size="29.8" text-anchor="middle">Time (s)</text>
<text transform="translate(37.20,359.10) rotate(-90)" font-size="29.2" text-anchor="middle">Voltage (V)</text>
<text transform="translate(866.20,365.00) rotate(-90)" font-size="29.0" text-anchor="middle">Voltage (V)</text>
<text transform="translate(793.10,365.00) rotate(-90) scale(0.9800,1)" font-size="29.4" text-anchor="middle" fill="#0000ff">Current (μA)</text>
<text transform="translate(1638.30,364.10) rotate(-90) scale(0.9800,1)" font-size="29.4" text-anchor="middle" fill="#0000ff">Current (μA)</text>
<text transform="translate(5.60,49.90) scale(1.0700,1)" font-size="48.5" fill="#111" font-family="'Noto Sans CJK KR', sans-serif" letter-spacing="-1.8">(a)</text>
<text transform="translate(811.30,53.60) scale(1.0900,1)" font-size="48.5" fill="#111" font-family="'Noto Sans CJK KR', sans-serif" letter-spacing="-0.3">(b)</text>
</svg>
</body></html>
